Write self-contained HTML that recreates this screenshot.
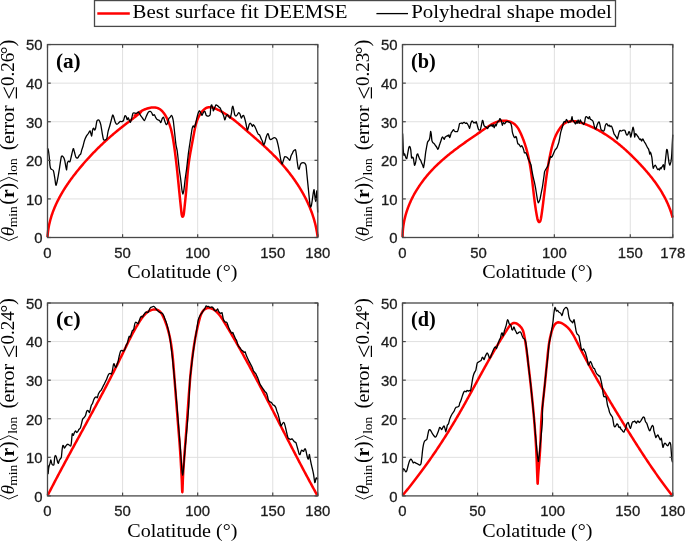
<!DOCTYPE html>
<html><head><meta charset="utf-8"><style>html,body{margin:0;padding:0;background:#fff;}svg{display:block;will-change:transform}</style></head>
<body><svg width="685" height="541" viewBox="0 0 685 541">
<rect width="685" height="541" fill="#fff"/>
<line x1="122.58" y1="44.55" x2="122.58" y2="237.50" stroke="#e0e0e0" stroke-width="1"/>
<line x1="197.67" y1="44.55" x2="197.67" y2="237.50" stroke="#e0e0e0" stroke-width="1"/>
<line x1="272.75" y1="44.55" x2="272.75" y2="237.50" stroke="#e0e0e0" stroke-width="1"/>
<line x1="47.50" y1="198.91" x2="317.80" y2="198.91" stroke="#e0e0e0" stroke-width="1"/>
<line x1="47.50" y1="160.32" x2="317.80" y2="160.32" stroke="#e0e0e0" stroke-width="1"/>
<line x1="47.50" y1="121.73" x2="317.80" y2="121.73" stroke="#e0e0e0" stroke-width="1"/>
<line x1="47.50" y1="83.14" x2="317.80" y2="83.14" stroke="#e0e0e0" stroke-width="1"/>
<path d="M47.50,237.10 L47.56,236.08 L47.64,235.06 L47.73,234.05 L47.84,233.04 L47.96,232.04 L48.08,231.03 L48.22,230.04 L48.38,229.04 L48.54,228.05 L48.72,227.06 L48.90,226.07 L49.10,225.09 L49.31,224.11 L49.53,223.14 L49.76,222.17 L50.00,221.20 L50.25,220.23 L50.52,219.27 L50.79,218.31 L51.07,217.36 L51.36,216.40 L51.67,215.45 L51.98,214.51 L52.30,213.57 L52.63,212.63 L52.97,211.69 L53.32,210.76 L53.68,209.83 L54.05,208.91 L54.43,207.98 L54.81,207.06 L55.21,206.15 L55.61,205.24 L56.02,204.33 L56.44,203.42 L56.87,202.52 L57.30,201.62 L57.75,200.72 L58.20,199.83 L58.65,198.94 L59.12,198.05 L59.59,197.16 L60.07,196.28 L60.56,195.41 L61.05,194.53 L61.55,193.66 L62.06,192.79 L62.57,191.93 L63.09,191.06 L63.62,190.21 L64.15,189.35 L64.69,188.50 L65.23,187.65 L65.78,186.80 L66.33,185.96 L66.89,185.12 L67.46,184.28 L68.03,183.44 L68.61,182.61 L69.19,181.78 L69.77,180.96 L70.36,180.14 L70.96,179.32 L71.55,178.50 L72.16,177.69 L72.76,176.88 L73.37,176.07 L73.99,175.26 L74.61,174.46 L75.23,173.66 L75.85,172.87 L76.48,172.08 L77.11,171.29 L77.75,170.50 L78.38,169.72 L79.02,168.93 L79.67,168.16 L80.31,167.38 L80.96,166.61 L81.61,165.84 L82.26,165.07 L82.92,164.31 L83.58,163.55 L84.24,162.79 L84.90,162.04 L85.56,161.28 L86.23,160.53 L86.90,159.79 L87.57,159.04 L88.25,158.30 L88.93,157.56 L89.61,156.83 L90.29,156.10 L90.97,155.37 L91.66,154.64 L92.35,153.91 L93.04,153.19 L93.74,152.47 L94.43,151.76 L95.13,151.04 L95.84,150.33 L96.54,149.62 L97.25,148.92 L97.96,148.21 L98.67,147.51 L99.38,146.81 L100.10,146.12 L100.82,145.43 L101.54,144.74 L102.27,144.05 L102.99,143.36 L103.72,142.68 L104.45,142.00 L105.19,141.32 L105.92,140.65 L106.66,139.98 L107.40,139.31 L108.15,138.64 L108.89,137.98 L109.64,137.31 L110.39,136.65 L111.15,136.00 L111.90,135.34 L112.66,134.69 L113.42,134.04 L114.19,133.39 L114.95,132.75 L115.72,132.10 L116.49,131.46 L117.27,130.83 L118.04,130.19 L118.82,129.56 L119.60,128.93 L120.38,128.30 L121.17,127.67 L121.96,127.05 L122.75,126.43 L123.54,125.81 L124.34,125.19 L125.13,124.58 L125.94,123.97 L126.74,123.35 L127.55,122.74 L128.36,122.12 L129.17,121.50 L129.99,120.88 L130.82,120.25 L131.65,119.61 L132.49,118.96 L133.34,118.31 L134.19,117.64 L135.05,116.96 L135.91,116.26 L136.79,115.55 L137.68,114.83 L138.57,114.09 L139.43,113.36 L140.17,112.71 L140.71,112.21 L140.95,111.92 L140.83,111.91 L140.34,112.17 L139.57,112.63 L138.63,113.23 L137.61,113.90 L136.60,114.55 L135.71,115.12 L135.03,115.55 L134.65,115.75 L134.66,115.68 L135.00,115.36 L135.61,114.88 L136.40,114.28 L137.28,113.64 L138.20,113.01 L139.14,112.40 L140.11,111.81 L141.10,111.24 L142.10,110.70 L143.12,110.19 L144.15,109.72 L145.18,109.27 L146.22,108.87 L147.26,108.51 L148.30,108.20 L149.34,107.93 L150.37,107.71 L151.38,107.55 L152.39,107.45 L153.38,107.40 L154.35,107.42 L155.29,107.51 L156.21,107.67 L157.10,107.90 L157.97,108.20 L158.79,108.58 L159.59,109.04 L160.35,109.56 L161.08,110.14 L161.79,110.77 L162.46,111.46 L163.10,112.20 L163.72,112.98 L164.31,113.79 L164.88,114.64 L165.42,115.52 L165.93,116.41 L166.43,117.32 L166.90,118.25 L167.35,119.18 L167.78,120.12 L168.19,121.06 L168.57,122.00 L168.95,122.95 L169.30,123.90 L169.64,124.86 L169.96,125.82 L170.26,126.78 L170.55,127.74 L170.83,128.71 L171.09,129.68 L171.34,130.66 L171.58,131.64 L171.80,132.61 L172.02,133.60 L172.23,134.58 L172.42,135.56 L172.61,136.55 L172.79,137.54 L172.97,138.53 L173.14,139.52 L173.30,140.52 L173.46,141.51 L173.62,142.51 L173.77,143.50 L173.92,144.50 L174.07,145.50 L174.21,146.50 L174.35,147.50 L174.49,148.50 L174.63,149.50 L174.77,150.50 L174.90,151.50 L175.04,152.50 L175.17,153.50 L175.29,154.51 L175.42,155.51 L175.55,156.51 L175.67,157.52 L175.79,158.52 L175.91,159.53 L176.03,160.53 L176.15,161.54 L176.27,162.54 L176.38,163.55 L176.49,164.55 L176.61,165.56 L176.72,166.56 L176.83,167.57 L176.94,168.57 L177.04,169.58 L177.15,170.58 L177.26,171.59 L177.36,172.59 L177.47,173.60 L177.57,174.60 L177.67,175.61 L177.78,176.61 L177.88,177.62 L177.98,178.62 L178.08,179.62 L178.18,180.63 L178.28,181.63 L178.38,182.63 L178.48,183.63 L178.58,184.63 L178.68,185.63 L178.78,186.63 L178.88,187.63 L178.98,188.63 L179.08,189.63 L179.17,190.63 L179.27,191.62 L179.37,192.62 L179.48,193.62 L179.58,194.61 L179.68,195.60 L179.78,196.60 L179.88,197.59 L179.98,198.58 L180.09,199.58 L180.19,200.57 L180.29,201.57 L180.40,202.57 L180.50,203.58 L180.61,204.58 L180.71,205.60 L180.82,206.62 L180.92,207.64 L181.03,208.67 L181.13,209.71 L181.24,210.75 L181.35,211.80 L181.45,212.86 L181.59,213.91 L181.77,214.91 L182.05,215.84 L182.42,216.57 L182.84,216.69 L183.23,216.09 L183.54,215.20 L183.75,214.22 L183.90,213.20 L184.02,212.16 L184.13,211.11 L184.25,210.08 L184.36,209.04 L184.47,208.01 L184.58,206.99 L184.69,205.97 L184.79,204.95 L184.90,203.94 L185.00,202.93 L185.11,201.92 L185.21,200.91 L185.31,199.91 L185.41,198.91 L185.51,197.91 L185.61,196.91 L185.70,195.92 L185.80,194.92 L185.89,193.93 L185.99,192.93 L186.08,191.94 L186.17,190.94 L186.26,189.95 L186.35,188.95 L186.43,187.96 L186.52,186.96 L186.60,185.96 L186.68,184.97 L186.76,183.96 L186.84,182.96 L186.92,181.96 L187.00,180.95 L187.08,179.95 L187.16,178.94 L187.25,177.93 L187.33,176.92 L187.41,175.91 L187.50,174.91 L187.58,173.90 L187.67,172.89 L187.77,171.88 L187.86,170.87 L187.96,169.86 L188.07,168.86 L188.17,167.85 L188.29,166.84 L188.40,165.84 L188.53,164.84 L188.65,163.84 L188.79,162.84 L188.92,161.84 L189.07,160.84 L189.21,159.84 L189.36,158.85 L189.52,157.85 L189.68,156.86 L189.84,155.87 L190.01,154.88 L190.18,153.89 L190.35,152.90 L190.52,151.91 L190.70,150.92 L190.88,149.93 L191.06,148.94 L191.24,147.95 L191.43,146.97 L191.61,145.98 L191.80,144.99 L191.99,144.00 L192.17,143.01 L192.36,142.03 L192.55,141.04 L192.74,140.05 L192.93,139.06 L193.11,138.07 L193.30,137.08 L193.48,136.09 L193.67,135.10 L193.85,134.11 L194.03,133.12 L194.22,132.13 L194.40,131.14 L194.59,130.15 L194.79,129.16 L194.99,128.17 L195.21,127.18 L195.43,126.20 L195.67,125.22 L195.93,124.25 L196.20,123.28 L196.50,122.31 L196.81,121.35 L197.15,120.40 L197.51,119.45 L197.90,118.51 L198.32,117.57 L198.77,116.65 L199.26,115.73 L199.77,114.82 L200.33,113.92 L200.92,113.04 L201.54,112.19 L202.20,111.37 L202.88,110.59 L203.60,109.88 L204.35,109.22 L205.13,108.64 L205.94,108.14 L206.77,107.73 L207.63,107.42 L208.52,107.22 L209.43,107.14 L210.35,107.17 L211.30,107.29 L212.25,107.50 L213.22,107.78 L214.18,108.12 L215.15,108.50 L216.11,108.91 L217.06,109.34 L218.00,109.79 L218.93,110.24 L219.85,110.71 L220.76,111.20 L221.66,111.69 L222.56,112.19 L223.44,112.71 L224.32,113.24 L225.18,113.77 L226.04,114.32 L226.89,114.87 L227.74,115.44 L228.57,116.01 L229.40,116.59 L230.23,117.18 L231.05,117.78 L231.86,118.38 L232.66,118.99 L233.47,119.61 L234.26,120.23 L235.05,120.85 L235.84,121.49 L236.63,122.12 L237.40,122.76 L238.18,123.41 L238.95,124.06 L239.72,124.71 L240.49,125.36 L241.26,126.02 L242.02,126.67 L242.78,127.33 L243.54,127.99 L244.30,128.65 L245.06,129.31 L245.82,129.97 L246.57,130.63 L247.33,131.29 L248.09,131.95 L248.85,132.61 L249.60,133.27 L250.36,133.92 L251.12,134.58 L251.88,135.23 L252.63,135.89 L253.39,136.55 L254.14,137.20 L254.90,137.86 L255.65,138.52 L256.40,139.17 L257.16,139.83 L257.91,140.49 L258.66,141.15 L259.41,141.81 L260.15,142.48 L260.90,143.14 L261.65,143.81 L262.39,144.48 L263.13,145.15 L263.87,145.82 L264.61,146.50 L265.35,147.17 L266.08,147.85 L266.82,148.53 L267.55,149.22 L268.28,149.91 L269.00,150.60 L269.73,151.29 L270.45,151.99 L271.17,152.69 L271.89,153.40 L272.60,154.10 L273.31,154.82 L274.02,155.53 L274.73,156.25 L275.44,156.98 L276.14,157.71 L276.83,158.44 L277.53,159.17 L278.22,159.91 L278.91,160.66 L279.60,161.40 L280.28,162.16 L280.96,162.91 L281.63,163.67 L282.30,164.43 L282.97,165.20 L283.63,165.97 L284.29,166.74 L284.95,167.52 L285.60,168.30 L286.25,169.08 L286.89,169.87 L287.53,170.66 L288.17,171.45 L288.80,172.25 L289.42,173.05 L290.05,173.86 L290.66,174.67 L291.28,175.48 L291.88,176.30 L292.49,177.12 L293.08,177.94 L293.68,178.76 L294.27,179.59 L294.85,180.43 L295.43,181.26 L296.00,182.10 L296.56,182.94 L297.13,183.79 L297.68,184.64 L298.23,185.49 L298.78,186.35 L299.32,187.21 L299.85,188.07 L300.37,188.93 L300.90,189.80 L301.41,190.67 L301.92,191.55 L302.42,192.43 L302.92,193.31 L303.41,194.19 L303.89,195.08 L304.37,195.97 L304.84,196.86 L305.30,197.76 L305.76,198.66 L306.21,199.56 L306.65,200.47 L307.09,201.38 L307.52,202.29 L307.94,203.20 L308.35,204.12 L308.76,205.04 L309.16,205.96 L309.55,206.89 L309.94,207.81 L310.31,208.74 L310.68,209.68 L311.05,210.62 L311.40,211.55 L311.75,212.50 L312.08,213.44 L312.41,214.39 L312.74,215.34 L313.05,216.29 L313.35,217.25 L313.65,218.21 L313.94,219.17 L314.22,220.13 L314.49,221.10 L314.75,222.06 L315.01,223.04 L315.25,224.01 L315.49,224.98 L315.72,225.96 L315.94,226.94 L316.14,227.93 L316.34,228.91 L316.53,229.90 L316.72,230.89 L316.89,231.89 L317.05,232.88 L317.20,233.88 L317.35,234.88 L317.48,235.88 L317.60,236.89" fill="none" stroke="#ff0000" stroke-width="2.5" stroke-linejoin="round" stroke-linecap="butt"/>
<path d="M47.36,147.96 C47.47,148.19 48.07,148.93 48.28,149.93 C48.50,150.92 49.01,154.66 49.20,156.50 C49.40,158.34 49.79,164.24 49.99,165.69 C50.19,167.15 50.52,168.41 50.91,168.98 C51.30,169.54 52.88,169.55 53.32,170.55 C53.76,171.54 54.41,175.78 54.70,177.48 C55.00,179.18 55.57,184.45 55.81,185.10 C56.06,185.75 56.51,184.07 56.78,183.02 C57.06,181.97 57.85,177.87 58.17,176.09 C58.49,174.31 59.18,170.06 59.56,167.77 C59.94,165.49 60.98,157.74 61.42,156.50 C61.87,155.26 63.01,156.69 63.39,157.15 C63.78,157.61 64.35,158.96 64.71,160.44 C65.07,161.92 66.18,169.55 66.49,169.85 C66.79,170.16 67.08,164.09 67.34,163.07 C67.59,162.04 68.34,161.25 68.65,161.09 C68.96,160.94 69.66,162.29 69.96,161.75 C70.27,161.22 70.89,158.03 71.28,156.50 C71.66,154.96 72.86,149.07 73.25,148.61 C73.63,148.15 74.26,151.56 74.56,152.55 C74.87,153.55 75.49,156.54 75.88,157.15 C76.26,157.77 77.43,158.04 77.85,157.81 C78.26,157.58 79.09,155.64 79.42,155.18 C79.76,154.72 80.46,154.48 80.74,153.87 C81.01,153.26 81.51,150.85 81.79,149.93 C82.06,149.01 82.80,147.06 83.10,145.99 C83.41,144.91 84.03,141.88 84.42,140.73 C84.80,139.58 85.93,136.97 86.39,136.13 C86.85,135.29 87.93,134.12 88.36,133.50 C88.79,132.89 89.68,130.57 90.07,130.88 C90.45,131.18 91.35,136.21 91.64,136.13 C91.93,136.05 92.33,131.14 92.56,130.22 C92.79,129.30 93.37,128.25 93.61,128.25 C93.86,128.25 94.43,130.22 94.66,130.22 C94.89,130.22 95.32,129.32 95.58,128.25 C95.84,127.18 96.59,121.99 96.90,121.02 C97.20,120.06 97.91,119.97 98.21,119.97 C98.52,119.97 99.22,120.44 99.53,121.02 C99.83,121.60 100.53,123.58 100.84,124.96 C101.15,126.34 101.85,131.16 102.15,132.85 C102.46,134.53 103.16,138.57 103.47,139.42 C103.77,140.26 104.40,140.15 104.78,140.07 C105.16,140.00 106.37,139.76 106.75,138.76 C107.14,137.76 107.73,132.99 108.07,131.53 C108.40,130.08 109.26,127.66 109.64,126.28 C110.03,124.90 111.00,121.01 111.35,119.71 C111.70,118.41 112.40,115.49 112.66,115.11 C112.92,114.73 113.28,115.58 113.58,116.42 C113.89,117.27 114.89,121.42 115.29,122.34 C115.69,123.26 116.62,124.23 117.00,124.31 C117.38,124.38 118.21,123.33 118.58,122.99 C118.94,122.66 119.77,121.57 120.15,121.42 C120.54,121.26 121.46,121.80 121.86,121.68 C122.26,121.56 123.22,121.05 123.57,120.36 C123.92,119.68 124.59,116.23 124.88,115.77 C125.17,115.31 125.81,115.96 126.07,116.42 C126.33,116.88 126.87,119.55 127.12,119.71 C127.36,119.86 127.94,117.74 128.17,117.74 C128.40,117.74 128.83,119.17 129.09,119.71 C129.35,120.24 130.09,122.49 130.40,122.34 C130.71,122.18 131.41,119.47 131.72,118.39 C132.02,117.32 132.54,113.72 133.03,113.14 C133.52,112.56 135.42,113.44 135.91,113.39 C136.40,113.35 136.92,112.89 137.23,112.74 C137.53,112.58 138.16,111.77 138.54,112.08 C138.92,112.39 140.05,114.68 140.51,115.36 C140.97,116.05 142.02,117.38 142.48,117.99 C142.94,118.61 143.99,120.85 144.45,120.62 C144.91,120.39 145.96,117.02 146.42,116.02 C146.88,115.03 147.93,112.62 148.39,112.08 C148.85,111.54 149.98,111.35 150.36,111.42 C150.75,111.50 151.37,112.28 151.68,112.74 C151.99,113.20 152.69,115.14 152.99,115.36 C153.30,115.59 154.00,114.48 154.31,114.71 C154.61,114.94 155.31,116.80 155.62,117.34 C155.93,117.87 156.63,119.00 156.93,119.31 C157.24,119.61 157.94,119.81 158.25,119.96 C158.55,120.12 159.26,120.31 159.56,120.62 C159.87,120.93 160.57,122.82 160.88,122.59 C161.18,122.36 161.88,119.26 162.19,118.65 C162.50,118.04 163.20,117.03 163.50,117.34 C163.81,117.64 164.51,120.43 164.82,121.28 C165.12,122.12 165.82,124.33 166.13,124.56 C166.44,124.79 167.14,123.94 167.45,123.25 C167.75,122.56 168.45,119.34 168.76,118.65 C169.07,117.96 169.77,117.72 170.07,117.34 C170.38,116.95 171.13,115.44 171.39,115.36 C171.65,115.29 172.08,115.99 172.31,116.68 C172.54,117.37 173.08,119.36 173.36,121.28 C173.63,123.19 174.36,130.34 174.67,133.10 C174.98,135.86 175.68,142.78 175.99,144.93 C176.29,147.07 176.92,148.70 177.30,151.50 C177.68,154.29 178.83,165.64 179.22,168.87 C179.62,172.11 180.39,176.81 180.70,179.22 C181.01,181.64 181.63,187.85 181.89,189.57 C182.14,191.30 182.68,194.01 182.92,194.01 C183.16,194.01 183.70,191.30 183.96,189.57 C184.21,187.85 184.83,181.64 185.14,179.22 C185.45,176.81 186.23,171.95 186.62,168.87 C187.01,165.79 188.02,156.22 188.47,152.81 C188.91,149.40 190.02,142.43 190.44,139.67 C190.85,136.91 191.71,130.77 192.01,129.16 C192.32,127.55 192.79,126.11 193.07,125.88 C193.34,125.65 194.07,127.50 194.38,127.19 C194.69,126.88 195.39,124.40 195.69,123.25 C196.00,122.10 196.70,118.56 197.01,117.34 C197.31,116.11 198.01,113.50 198.32,112.74 C198.63,111.97 199.33,110.69 199.64,110.77 C199.94,110.84 200.67,112.86 200.95,113.39 C201.22,113.93 201.69,115.52 202.00,115.36 C202.31,115.21 203.24,112.54 203.58,112.08 C203.91,111.62 204.58,111.04 204.89,111.42 C205.20,111.81 205.90,114.83 206.20,115.36 C206.51,115.90 207.21,115.95 207.52,116.02 C207.82,116.10 208.53,116.18 208.83,116.02 C209.14,115.87 209.92,115.78 210.15,114.71 C210.38,113.64 210.62,107.97 210.80,106.82 C210.99,105.68 211.49,104.70 211.72,104.85 C211.95,105.01 212.57,107.45 212.77,108.14 C212.97,108.83 213.20,110.84 213.43,110.77 C213.66,110.69 214.44,108.17 214.74,107.48 C215.05,106.79 215.75,105.08 216.06,104.85 C216.36,104.62 217.07,105.28 217.37,105.51 C217.68,105.74 218.35,106.52 218.69,106.82 C219.02,107.13 219.92,107.60 220.26,108.14 C220.59,108.68 221.26,110.73 221.57,111.42 C221.88,112.11 222.61,113.44 222.88,114.05 C223.16,114.66 223.70,115.99 223.93,116.68 C224.16,117.37 224.59,120.04 224.85,119.96 C225.11,119.89 225.86,116.64 226.17,116.02 C226.47,115.41 227.18,114.63 227.48,114.71 C227.79,114.78 228.49,116.30 228.80,116.68 C229.10,117.06 229.80,118.38 230.11,117.99 C230.42,117.61 231.19,114.54 231.42,113.39 C231.65,112.24 231.91,108.98 232.08,108.14 C232.25,107.30 232.68,106.01 232.87,106.17 C233.05,106.32 233.44,108.46 233.66,109.45 C233.87,110.45 234.43,113.94 234.71,114.71 C234.98,115.47 235.72,116.02 236.02,116.02 C236.33,116.02 237.03,115.09 237.34,114.71 C237.64,114.32 238.34,112.81 238.65,112.74 C238.96,112.66 239.66,113.44 239.96,114.05 C240.27,114.66 240.97,117.76 241.28,117.99 C241.58,118.22 242.32,116.33 242.59,116.02 C242.87,115.72 243.41,115.14 243.64,115.36 C243.87,115.59 244.30,117.07 244.56,117.99 C244.82,118.91 245.57,121.87 245.88,123.25 C246.18,124.63 246.93,129.20 247.19,129.82 C247.45,130.43 247.88,129.12 248.11,128.50 C248.34,127.89 248.92,125.18 249.16,124.56 C249.41,123.95 249.94,123.25 250.21,123.25 C250.49,123.25 251.26,124.18 251.53,124.56 C251.79,124.95 252.23,126.53 252.45,126.53 C252.66,126.53 253.14,124.64 253.36,124.56 C253.59,124.49 254.14,125.42 254.42,125.88 C254.69,126.34 255.42,127.81 255.73,128.50 C256.04,129.19 256.74,131.10 257.04,131.79 C257.35,132.48 258.05,134.03 258.36,134.42 C258.66,134.80 259.36,134.61 259.67,135.07 C259.98,135.53 260.68,137.67 260.99,138.36 C261.29,139.05 261.99,140.22 262.30,140.99 C262.61,141.75 263.31,144.77 263.61,144.93 C263.92,145.08 264.62,143.22 264.93,142.30 C265.23,141.38 265.96,137.96 266.24,137.04 C266.52,136.12 267.06,134.80 267.29,134.42 C267.52,134.03 267.95,133.30 268.21,133.76 C268.47,134.22 269.22,137.67 269.53,138.36 C269.83,139.05 270.46,139.67 270.84,139.67 C271.22,139.67 272.43,138.59 272.81,138.36 C273.19,138.13 273.82,137.73 274.12,137.70 C274.43,137.67 275.13,137.86 275.44,138.09 C275.74,138.32 276.45,138.87 276.75,139.67 C277.06,140.47 277.76,143.55 278.07,144.93 C278.37,146.31 279.07,149.81 279.38,151.50 C279.69,153.18 280.39,157.92 280.69,159.38 C281.00,160.84 281.70,163.82 282.01,163.98 C282.31,164.13 283.01,161.54 283.32,160.69 C283.63,159.85 284.23,157.16 284.64,156.75 C285.04,156.35 286.41,157.02 286.80,157.21 C287.20,157.40 287.65,158.06 288.00,158.41 C288.35,158.76 289.46,160.49 289.81,160.21 C290.16,159.93 290.73,156.78 291.01,156.01 C291.29,155.24 291.93,154.17 292.21,153.60 C292.49,153.04 293.13,151.62 293.41,151.20 C293.69,150.78 294.36,150.14 294.61,150.00 C294.86,149.86 295.36,149.44 295.57,150.00 C295.78,150.56 296.22,153.40 296.41,154.81 C296.61,156.21 297.04,160.47 297.26,162.01 C297.47,163.56 297.99,167.18 298.22,168.02 C298.44,168.86 298.97,169.50 299.18,169.22 C299.39,168.94 299.78,166.32 300.02,165.62 C300.26,164.92 300.87,163.57 301.22,163.22 C301.57,162.87 302.60,162.62 303.02,162.62 C303.44,162.62 304.47,162.87 304.82,163.22 C305.17,163.57 305.79,164.36 306.03,165.62 C306.26,166.88 306.66,171.93 306.87,174.03 C307.08,176.13 307.60,181.40 307.83,183.64 C308.05,185.88 308.58,191.15 308.79,193.25 C309.00,195.36 309.43,200.05 309.63,201.66 C309.83,203.28 310.26,206.65 310.47,207.07 C310.68,207.49 311.21,206.18 311.43,205.27 C311.66,204.36 312.18,200.66 312.39,199.26 C312.60,197.86 313.04,194.37 313.23,193.25 C313.43,192.13 313.89,189.37 314.08,189.65 C314.26,189.93 314.61,194.25 314.80,195.66 C314.98,197.06 315.47,201.66 315.64,201.66 C315.81,201.66 316.10,196.92 316.24,195.66 C316.38,194.39 316.73,190.57 316.84,190.85 C316.95,191.13 317.13,196.24 317.20,198.06 C317.27,199.88 317.38,204.79 317.44,206.47 C317.50,208.15 317.65,211.78 317.68,212.48" fill="none" stroke="#000" stroke-width="1.3" stroke-linejoin="round"/>
<line x1="47.50" y1="237.50" x2="47.50" y2="234.20" stroke="#484848" stroke-width="1.2"/>
<line x1="47.50" y1="44.55" x2="47.50" y2="47.85" stroke="#484848" stroke-width="1.2"/>
<line x1="122.58" y1="237.50" x2="122.58" y2="234.20" stroke="#484848" stroke-width="1.2"/>
<line x1="122.58" y1="44.55" x2="122.58" y2="47.85" stroke="#484848" stroke-width="1.2"/>
<line x1="197.67" y1="237.50" x2="197.67" y2="234.20" stroke="#484848" stroke-width="1.2"/>
<line x1="197.67" y1="44.55" x2="197.67" y2="47.85" stroke="#484848" stroke-width="1.2"/>
<line x1="272.75" y1="237.50" x2="272.75" y2="234.20" stroke="#484848" stroke-width="1.2"/>
<line x1="272.75" y1="44.55" x2="272.75" y2="47.85" stroke="#484848" stroke-width="1.2"/>
<line x1="317.80" y1="237.50" x2="317.80" y2="234.20" stroke="#484848" stroke-width="1.2"/>
<line x1="317.80" y1="44.55" x2="317.80" y2="47.85" stroke="#484848" stroke-width="1.2"/>
<line x1="47.50" y1="237.50" x2="50.80" y2="237.50" stroke="#484848" stroke-width="1.2"/>
<line x1="317.80" y1="237.50" x2="314.50" y2="237.50" stroke="#484848" stroke-width="1.2"/>
<line x1="47.50" y1="198.91" x2="50.80" y2="198.91" stroke="#484848" stroke-width="1.2"/>
<line x1="317.80" y1="198.91" x2="314.50" y2="198.91" stroke="#484848" stroke-width="1.2"/>
<line x1="47.50" y1="160.32" x2="50.80" y2="160.32" stroke="#484848" stroke-width="1.2"/>
<line x1="317.80" y1="160.32" x2="314.50" y2="160.32" stroke="#484848" stroke-width="1.2"/>
<line x1="47.50" y1="121.73" x2="50.80" y2="121.73" stroke="#484848" stroke-width="1.2"/>
<line x1="317.80" y1="121.73" x2="314.50" y2="121.73" stroke="#484848" stroke-width="1.2"/>
<line x1="47.50" y1="83.14" x2="50.80" y2="83.14" stroke="#484848" stroke-width="1.2"/>
<line x1="317.80" y1="83.14" x2="314.50" y2="83.14" stroke="#484848" stroke-width="1.2"/>
<line x1="47.50" y1="44.55" x2="50.80" y2="44.55" stroke="#484848" stroke-width="1.2"/>
<line x1="317.80" y1="44.55" x2="314.50" y2="44.55" stroke="#484848" stroke-width="1.2"/>
<rect x="47.50" y="44.55" width="270.30" height="192.95" fill="none" stroke="#484848" stroke-width="1.3"/>
<text x="47.50" y="258.00" font-family="Liberation Sans" font-size="14.9" fill="#1c1c1c" stroke="#1c1c1c" stroke-width="0.3" text-anchor="middle">0</text>
<text x="122.58" y="258.00" font-family="Liberation Sans" font-size="14.9" fill="#1c1c1c" stroke="#1c1c1c" stroke-width="0.3" text-anchor="middle">50</text>
<text x="197.67" y="258.00" font-family="Liberation Sans" font-size="14.9" fill="#1c1c1c" stroke="#1c1c1c" stroke-width="0.3" text-anchor="middle">100</text>
<text x="272.75" y="258.00" font-family="Liberation Sans" font-size="14.9" fill="#1c1c1c" stroke="#1c1c1c" stroke-width="0.3" text-anchor="middle">150</text>
<text x="317.80" y="258.00" font-family="Liberation Sans" font-size="14.9" fill="#1c1c1c" stroke="#1c1c1c" stroke-width="0.3" text-anchor="middle">180</text>
<text x="42.60" y="243.30" font-family="Liberation Sans" font-size="14.9" fill="#1c1c1c" stroke="#1c1c1c" stroke-width="0.3" text-anchor="end">0</text>
<text x="42.60" y="204.71" font-family="Liberation Sans" font-size="14.9" fill="#1c1c1c" stroke="#1c1c1c" stroke-width="0.3" text-anchor="end">10</text>
<text x="42.60" y="166.12" font-family="Liberation Sans" font-size="14.9" fill="#1c1c1c" stroke="#1c1c1c" stroke-width="0.3" text-anchor="end">20</text>
<text x="42.60" y="127.53" font-family="Liberation Sans" font-size="14.9" fill="#1c1c1c" stroke="#1c1c1c" stroke-width="0.3" text-anchor="end">30</text>
<text x="42.60" y="88.94" font-family="Liberation Sans" font-size="14.9" fill="#1c1c1c" stroke="#1c1c1c" stroke-width="0.3" text-anchor="end">40</text>
<text x="42.60" y="50.35" font-family="Liberation Sans" font-size="14.9" fill="#1c1c1c" stroke="#1c1c1c" stroke-width="0.3" text-anchor="end">50</text>
<text x="55.90" y="67.55" font-family="Liberation Serif" font-weight="bold" font-size="20.6" fill="#000" textLength="24.8" lengthAdjust="spacingAndGlyphs">(a)</text>
<text x="182.35" y="278.40" font-family="Liberation Serif" font-size="19.5" fill="#000" text-anchor="middle" textLength="110" lengthAdjust="spacingAndGlyphs">Colatitude (°)</text>
<g transform="translate(13.90,0.00) rotate(-90)" fill="#000">
<path d="M-236.70,-13.9 L-240.60,-5.1 L-236.70,4.1" fill="none" stroke="#000" stroke-width="0.9"/>
<text x="-231.35" y="0" font-family="Liberation Serif" font-size="19.5" text-anchor="middle" font-style="italic">θ</text>
<text x="-216.75" y="2.7" font-family="Liberation Serif" font-size="13.5" text-anchor="middle" textLength="21.0" lengthAdjust="spacingAndGlyphs">min</text>
<text x="-201.25" y="0" font-family="Liberation Serif" font-size="20.6" text-anchor="middle">(</text>
<text x="-193.65" y="0" font-family="Liberation Serif" font-size="19.5" text-anchor="middle" font-weight="bold">r</text>
<text x="-186.30" y="0" font-family="Liberation Serif" font-size="20.6" text-anchor="middle">)</text>
<path d="M-181.30,-13.9 L-177.30,-5.1 L-181.30,4.1" fill="none" stroke="#000" stroke-width="0.9"/>
<text x="-166.90" y="2.7" font-family="Liberation Serif" font-size="13.5" text-anchor="middle" textLength="17.0" lengthAdjust="spacingAndGlyphs">lon</text>
<text x="-146.70" y="0" font-family="Liberation Serif" font-size="20.6" text-anchor="middle">(</text>
<text x="-124.70" y="0" font-family="Liberation Serif" font-size="19.5" text-anchor="middle" textLength="38.6" lengthAdjust="spacingAndGlyphs">error</text>
<text x="-93.00" y="2.6" font-family="Liberation Serif" font-size="24" text-anchor="middle">≤</text>
<text x="-69.40" y="0" font-family="Liberation Serif" font-size="19.5" text-anchor="middle" textLength="33.3" lengthAdjust="spacingAndGlyphs">0.26</text>
<text x="-50.25" y="0" font-family="Liberation Serif" font-size="19.5" text-anchor="middle">°</text>
<text x="-43.05" y="0" font-family="Liberation Serif" font-size="20.6" text-anchor="middle">)</text>
</g>
<line x1="478.43" y1="44.55" x2="478.43" y2="237.50" stroke="#e0e0e0" stroke-width="1"/>
<line x1="554.35" y1="44.55" x2="554.35" y2="237.50" stroke="#e0e0e0" stroke-width="1"/>
<line x1="630.28" y1="44.55" x2="630.28" y2="237.50" stroke="#e0e0e0" stroke-width="1"/>
<line x1="402.50" y1="198.91" x2="672.80" y2="198.91" stroke="#e0e0e0" stroke-width="1"/>
<line x1="402.50" y1="160.32" x2="672.80" y2="160.32" stroke="#e0e0e0" stroke-width="1"/>
<line x1="402.50" y1="121.73" x2="672.80" y2="121.73" stroke="#e0e0e0" stroke-width="1"/>
<line x1="402.50" y1="83.14" x2="672.80" y2="83.14" stroke="#e0e0e0" stroke-width="1"/>
<path d="M402.60,237.12 L402.61,236.21 L402.62,235.31 L402.64,234.41 L402.67,233.50 L402.72,232.60 L402.77,231.71 L402.83,230.81 L402.91,229.91 L402.99,229.02 L403.08,228.13 L403.19,227.24 L403.30,226.36 L403.42,225.47 L403.56,224.59 L403.70,223.71 L403.85,222.83 L404.01,221.95 L404.18,221.08 L404.36,220.20 L404.55,219.33 L404.75,218.47 L404.96,217.60 L405.17,216.74 L405.40,215.88 L405.63,215.02 L405.88,214.16 L406.13,213.31 L406.39,212.46 L406.65,211.61 L406.93,210.77 L407.22,209.93 L407.51,209.09 L407.81,208.25 L408.12,207.41 L408.44,206.58 L408.76,205.75 L409.09,204.93 L409.43,204.10 L409.78,203.28 L410.14,202.47 L410.50,201.65 L410.87,200.84 L411.25,200.03 L411.63,199.23 L412.03,198.43 L412.43,197.63 L412.83,196.84 L413.24,196.04 L413.66,195.26 L414.09,194.47 L414.52,193.69 L414.96,192.91 L415.41,192.14 L415.86,191.36 L416.32,190.60 L416.79,189.83 L417.26,189.07 L417.74,188.32 L418.22,187.56 L418.71,186.81 L419.21,186.07 L419.71,185.32 L420.21,184.59 L420.73,183.85 L421.24,183.12 L421.77,182.40 L422.30,181.67 L422.83,180.96 L423.37,180.24 L423.91,179.53 L424.46,178.83 L425.02,178.12 L425.58,177.43 L426.14,176.73 L426.71,176.04 L427.28,175.36 L427.86,174.68 L428.44,174.00 L429.03,173.33 L429.62,172.66 L430.21,172.00 L430.81,171.34 L431.42,170.69 L432.02,170.04 L432.64,169.39 L433.25,168.75 L433.87,168.12 L434.49,167.48 L435.12,166.85 L435.75,166.23 L436.39,165.61 L437.02,164.99 L437.66,164.38 L438.31,163.77 L438.96,163.16 L439.61,162.56 L440.26,161.96 L440.92,161.36 L441.58,160.77 L442.25,160.18 L442.91,159.59 L443.58,159.01 L444.26,158.43 L444.93,157.85 L445.61,157.28 L446.29,156.71 L446.98,156.14 L447.66,155.57 L448.35,155.01 L449.05,154.45 L449.74,153.89 L450.44,153.34 L451.14,152.78 L451.84,152.23 L452.54,151.68 L453.25,151.14 L453.96,150.59 L454.67,150.05 L455.38,149.51 L456.09,148.97 L456.81,148.44 L457.53,147.90 L458.25,147.37 L458.97,146.84 L459.69,146.31 L460.42,145.78 L461.14,145.25 L461.87,144.73 L462.60,144.20 L463.33,143.68 L464.06,143.16 L464.79,142.64 L465.53,142.12 L466.26,141.60 L467.00,141.09 L467.74,140.57 L468.48,140.05 L469.21,139.54 L469.95,139.02 L470.70,138.51 L471.44,138.00 L472.18,137.48 L472.92,136.97 L473.67,136.46 L474.41,135.95 L475.15,135.44 L475.90,134.93 L476.64,134.41 L477.39,133.90 L478.14,133.39 L478.88,132.88 L479.63,132.37 L480.37,131.86 L481.12,131.34 L481.86,130.83 L482.61,130.32 L483.36,129.80 L484.10,129.29 L484.85,128.77 L485.59,128.26 L486.34,127.75 L487.08,127.24 L487.83,126.74 L488.58,126.25 L489.33,125.77 L490.09,125.29 L490.84,124.84 L491.61,124.39 L492.37,123.96 L493.14,123.55 L493.92,123.16 L494.70,122.79 L495.48,122.45 L496.27,122.13 L497.07,121.83 L497.88,121.56 L498.69,121.33 L499.51,121.12 L500.34,120.95 L501.18,120.82 L502.02,120.72 L502.88,120.65 L503.75,120.63 L504.62,120.65 L505.51,120.72 L506.40,120.82 L507.29,120.97 L508.18,121.17 L509.06,121.40 L509.93,121.68 L510.79,122.01 L511.62,122.38 L512.43,122.79 L513.21,123.25 L513.95,123.75 L514.66,124.30 L515.32,124.89 L515.95,125.52 L516.54,126.20 L517.10,126.90 L517.62,127.63 L518.12,128.39 L518.59,129.18 L519.04,129.98 L519.47,130.79 L519.89,131.62 L520.29,132.46 L520.68,133.30 L521.06,134.14 L521.43,134.98 L521.79,135.82 L522.14,136.67 L522.49,137.51 L522.83,138.36 L523.16,139.20 L523.48,140.05 L523.79,140.90 L524.10,141.75 L524.40,142.60 L524.69,143.45 L524.97,144.30 L525.25,145.16 L525.52,146.01 L525.78,146.87 L526.04,147.72 L526.29,148.58 L526.53,149.44 L526.77,150.30 L527.00,151.16 L527.23,152.02 L527.45,152.88 L527.66,153.74 L527.87,154.60 L528.07,155.47 L528.27,156.33 L528.46,157.20 L528.65,158.06 L528.83,158.93 L529.01,159.80 L529.18,160.67 L529.35,161.54 L529.52,162.41 L529.68,163.28 L529.83,164.15 L529.99,165.02 L530.14,165.90 L530.28,166.77 L530.42,167.64 L530.56,168.52 L530.70,169.39 L530.83,170.27 L530.96,171.15 L531.08,172.03 L531.21,172.90 L531.33,173.78 L531.45,174.66 L531.57,175.54 L531.68,176.42 L531.79,177.31 L531.91,178.19 L532.02,179.07 L532.12,179.95 L532.23,180.84 L532.34,181.72 L532.44,182.60 L532.54,183.49 L532.65,184.37 L532.75,185.26 L532.85,186.15 L532.95,187.03 L533.05,187.92 L533.15,188.81 L533.25,189.70 L533.35,190.59 L533.45,191.48 L533.55,192.36 L533.66,193.25 L533.76,194.15 L533.86,195.04 L533.97,195.93 L534.07,196.82 L534.18,197.71 L534.29,198.60 L534.40,199.49 L534.51,200.39 L534.62,201.28 L534.74,202.17 L534.86,203.07 L534.98,203.96 L535.10,204.85 L535.22,205.75 L535.35,206.64 L535.48,207.54 L535.61,208.43 L535.75,209.33 L535.89,210.22 L536.03,211.12 L536.18,212.02 L536.33,212.91 L536.48,213.81 L536.64,214.70 L536.80,215.60 L536.97,216.50 L537.14,217.39 L537.32,218.29 L537.52,219.16 L537.76,219.99 L538.06,220.77 L538.42,221.46 L538.85,221.96 L539.31,222.09 L539.76,221.80 L540.16,221.21 L540.48,220.43 L540.74,219.52 L540.95,218.52 L541.13,217.50 L541.29,216.49 L541.44,215.52 L541.58,214.57 L541.72,213.66 L541.85,212.76 L541.97,211.88 L542.09,211.01 L542.21,210.15 L542.33,209.29 L542.44,208.43 L542.55,207.56 L542.67,206.70 L542.78,205.83 L542.89,204.96 L543.00,204.09 L543.11,203.22 L543.22,202.35 L543.32,201.47 L543.43,200.60 L543.54,199.72 L543.65,198.84 L543.75,197.96 L543.86,197.08 L543.97,196.19 L544.08,195.31 L544.18,194.43 L544.29,193.54 L544.40,192.65 L544.51,191.76 L544.61,190.87 L544.72,189.99 L544.83,189.09 L544.94,188.20 L545.05,187.31 L545.16,186.42 L545.27,185.53 L545.39,184.64 L545.50,183.74 L545.62,182.85 L545.73,181.96 L545.85,181.06 L545.97,180.17 L546.08,179.27 L546.20,178.38 L546.33,177.49 L546.45,176.59 L546.57,175.70 L546.70,174.81 L546.83,173.92 L546.96,173.03 L547.09,172.13 L547.22,171.24 L547.36,170.35 L547.49,169.46 L547.63,168.58 L547.78,167.69 L547.92,166.80 L548.06,165.92 L548.21,165.03 L548.36,164.15 L548.52,163.27 L548.67,162.38 L548.83,161.50 L548.99,160.63 L549.15,159.75 L549.32,158.87 L549.49,158.00 L549.66,157.13 L549.83,156.26 L550.01,155.39 L550.19,154.52 L550.38,153.65 L550.56,152.79 L550.75,151.93 L550.95,151.07 L551.15,150.21 L551.35,149.36 L551.55,148.50 L551.76,147.65 L551.97,146.80 L552.19,145.96 L552.42,145.11 L552.65,144.27 L552.89,143.43 L553.15,142.59 L553.41,141.76 L553.68,140.92 L553.96,140.09 L554.26,139.26 L554.57,138.43 L554.90,137.60 L555.24,136.78 L555.59,135.96 L555.97,135.14 L556.36,134.32 L556.77,133.50 L557.20,132.68 L557.65,131.87 L558.12,131.05 L558.62,130.24 L559.13,129.43 L559.67,128.63 L560.24,127.85 L560.82,127.09 L561.42,126.35 L562.05,125.65 L562.69,124.99 L563.35,124.37 L564.03,123.81 L564.73,123.30 L565.45,122.85 L566.18,122.46 L566.93,122.12 L567.70,121.83 L568.47,121.60 L569.26,121.41 L570.07,121.27 L570.88,121.17 L571.70,121.12 L572.54,121.11 L573.38,121.13 L574.23,121.19 L575.08,121.28 L575.94,121.40 L576.81,121.56 L577.68,121.74 L578.55,121.95 L579.42,122.18 L580.30,122.43 L581.18,122.70 L582.05,122.98 L582.93,123.29 L583.80,123.60 L584.67,123.92 L585.53,124.26 L586.39,124.60 L587.25,124.95 L588.10,125.30 L588.94,125.66 L589.78,126.02 L590.61,126.40 L591.45,126.77 L592.27,127.16 L593.09,127.55 L593.91,127.94 L594.72,128.34 L595.53,128.75 L596.33,129.16 L597.13,129.58 L597.92,130.01 L598.71,130.44 L599.50,130.87 L600.28,131.31 L601.05,131.76 L601.83,132.21 L602.59,132.67 L603.36,133.13 L604.12,133.60 L604.87,134.07 L605.63,134.55 L606.38,135.03 L607.12,135.51 L607.86,136.01 L608.60,136.50 L609.33,137.00 L610.06,137.51 L610.79,138.02 L611.51,138.53 L612.23,139.05 L612.95,139.58 L613.66,140.10 L614.37,140.64 L615.07,141.17 L615.77,141.71 L616.47,142.26 L617.17,142.81 L617.86,143.36 L618.55,143.91 L619.24,144.47 L619.92,145.04 L620.60,145.61 L621.28,146.18 L621.96,146.75 L622.63,147.33 L623.30,147.91 L623.97,148.50 L624.63,149.09 L625.29,149.68 L625.95,150.27 L626.61,150.87 L627.26,151.47 L627.91,152.08 L628.56,152.69 L629.21,153.30 L629.86,153.91 L630.50,154.52 L631.14,155.14 L631.78,155.76 L632.41,156.39 L633.05,157.02 L633.68,157.64 L634.31,158.28 L634.94,158.91 L635.57,159.55 L636.19,160.18 L636.81,160.82 L637.43,161.47 L638.05,162.11 L638.67,162.76 L639.29,163.41 L639.90,164.06 L640.51,164.71 L641.12,165.37 L641.73,166.03 L642.34,166.69 L642.94,167.35 L643.54,168.01 L644.14,168.68 L644.73,169.35 L645.32,170.02 L645.91,170.70 L646.50,171.37 L647.08,172.05 L647.66,172.74 L648.24,173.42 L648.81,174.11 L649.38,174.80 L649.95,175.49 L650.51,176.19 L651.07,176.88 L651.63,177.58 L652.18,178.29 L652.72,178.99 L653.27,179.70 L653.80,180.42 L654.34,181.13 L654.87,181.85 L655.39,182.57 L655.92,183.29 L656.43,184.02 L656.94,184.75 L657.45,185.48 L657.95,186.22 L658.45,186.96 L658.94,187.70 L659.42,188.45 L659.91,189.19 L660.38,189.95 L660.85,190.70 L661.31,191.46 L661.77,192.22 L662.23,192.99 L662.67,193.76 L663.11,194.53 L663.55,195.30 L663.98,196.08 L664.40,196.86 L664.81,197.65 L665.22,198.44 L665.63,199.23 L666.02,200.03 L666.41,200.83 L666.80,201.63 L667.17,202.44 L667.54,203.25 L667.90,204.07 L668.26,204.89 L668.60,205.71 L668.94,206.54 L669.27,207.37 L669.60,208.20 L669.92,209.04 L670.22,209.88 L670.53,210.73 L670.82,211.58 L671.10,212.43 L671.38,213.29 L671.65,214.15 L671.91,215.02 L672.16,215.89 L672.41,216.77 L672.64,217.65" fill="none" stroke="#ff0000" stroke-width="2.5" stroke-linejoin="round" stroke-linecap="butt"/>
<path d="M402.63,133.50 C402.66,134.19 402.81,137.50 402.89,139.42 C402.97,141.33 403.16,148.09 403.28,149.93 C403.41,151.77 403.79,154.72 403.94,155.18 C404.09,155.64 404.45,153.79 404.60,153.87 C404.75,153.95 405.10,155.38 405.26,155.84 C405.41,156.30 405.73,157.50 405.91,157.81 C406.10,158.12 406.60,159.08 406.83,158.47 C407.06,157.85 407.64,153.86 407.88,152.55 C408.13,151.25 408.70,147.99 408.93,147.30 C409.16,146.61 409.64,146.34 409.85,146.64 C410.07,146.95 410.57,148.62 410.77,149.93 C410.97,151.23 411.36,156.97 411.56,157.81 C411.76,158.65 412.27,157.08 412.48,157.15 C412.70,157.23 413.17,157.55 413.40,158.47 C413.63,159.39 414.25,164.35 414.45,165.04 C414.65,165.73 414.96,164.76 415.11,164.38 C415.26,164.00 415.57,162.82 415.77,161.75 C415.97,160.68 416.59,156.10 416.82,155.18 C417.05,154.26 417.52,153.72 417.74,153.87 C417.95,154.02 418.43,155.88 418.66,156.50 C418.89,157.11 419.46,158.66 419.71,159.12 C419.95,159.58 420.53,159.98 420.76,160.44 C420.99,160.90 421.46,162.53 421.68,163.07 C421.89,163.60 422.40,164.50 422.60,165.04 C422.80,165.57 423.23,167.59 423.39,167.66 C423.54,167.74 423.76,166.54 423.91,165.69 C424.07,164.85 424.50,161.97 424.70,160.44 C424.90,158.91 425.41,154.09 425.62,152.55 C425.84,151.02 426.31,148.53 426.54,147.30 C426.77,146.07 427.36,142.81 427.59,142.04 C427.82,141.28 428.33,140.96 428.51,140.73 C428.69,140.50 429.00,140.53 429.17,140.07 C429.34,139.61 429.79,137.78 429.96,136.79 C430.12,135.79 430.46,131.84 430.61,131.53 C430.77,131.23 431.12,133.09 431.27,134.16 C431.42,135.23 431.74,139.73 431.93,140.73 C432.11,141.73 432.62,142.39 432.85,142.70 C433.08,143.01 433.67,143.13 433.90,143.36 C434.13,143.59 434.59,144.36 434.82,144.67 C435.05,144.98 435.64,145.68 435.87,145.99 C436.10,146.29 436.57,146.92 436.79,147.30 C437.00,147.68 437.52,149.12 437.71,149.27 C437.89,149.42 438.20,149.00 438.36,148.61 C438.53,148.23 438.95,146.60 439.15,145.99 C439.35,145.37 439.86,143.97 440.07,143.36 C440.29,142.74 440.79,141.34 440.99,140.73 C441.19,140.12 441.61,138.56 441.78,138.10 C441.95,137.64 442.25,136.79 442.44,136.79 C442.62,136.79 443.14,137.80 443.36,138.10 C443.57,138.41 444.09,139.49 444.28,139.42 C444.46,139.34 444.77,137.75 444.93,137.45 C445.10,137.14 445.52,136.94 445.72,136.79 C445.92,136.64 446.43,136.28 446.64,136.13 C446.86,135.98 447.36,135.47 447.56,135.47 C447.76,135.47 448.20,136.21 448.35,136.13 C448.50,136.05 448.72,134.66 448.88,134.82 C449.03,134.97 449.50,137.29 449.66,137.45 C449.83,137.60 450.14,136.67 450.32,136.13 C450.51,135.59 451.03,133.38 451.24,132.85 C451.46,132.31 451.96,131.84 452.16,131.53 C452.36,131.23 452.78,130.45 452.95,130.22 C453.12,129.99 453.45,129.49 453.61,129.56 C453.76,129.64 454.08,130.65 454.26,130.88 C454.45,131.11 454.95,131.46 455.18,131.53 C455.41,131.61 455.97,131.53 456.23,131.53 C456.49,131.53 457.19,131.76 457.42,131.53 C457.65,131.30 458.04,130.10 458.20,129.56 C458.37,129.03 458.71,127.62 458.86,126.93 C459.01,126.24 459.33,124.06 459.52,123.65 C459.70,123.24 460.21,123.46 460.44,123.39 C460.67,123.31 461.26,122.96 461.49,122.99 C461.72,123.02 462.19,123.70 462.41,123.65 C462.62,123.60 463.10,122.75 463.33,122.60 C463.56,122.45 464.13,122.24 464.38,122.34 C464.62,122.43 465.20,123.31 465.43,123.39 C465.66,123.46 466.14,122.96 466.35,122.99 C466.56,123.02 467.07,123.42 467.27,123.65 C467.47,123.88 467.86,124.58 468.06,124.96 C468.26,125.35 468.79,126.55 468.98,126.93 C469.16,127.32 469.48,128.40 469.64,128.25 C469.79,128.09 470.14,126.23 470.29,125.62 C470.45,125.01 470.75,123.53 470.95,122.99 C471.15,122.46 471.77,121.18 472.00,121.02 C472.23,120.87 472.71,121.45 472.92,121.68 C473.13,121.91 473.64,122.92 473.84,122.99 C474.04,123.07 474.43,122.34 474.63,122.34 C474.83,122.34 475.36,123.07 475.55,122.99 C475.73,122.92 476.05,121.60 476.20,121.68 C476.36,121.76 476.71,123.11 476.86,123.65 C477.01,124.19 477.32,125.59 477.52,126.28 C477.72,126.97 478.34,129.10 478.57,129.56 C478.80,130.02 479.27,130.22 479.49,130.22 C479.70,130.22 480.21,130.02 480.41,129.56 C480.61,129.10 481.01,127.12 481.20,126.28 C481.38,125.43 481.83,123.03 481.99,122.34 C482.14,121.65 482.37,120.44 482.51,120.36 C482.65,120.29 483.01,121.14 483.17,121.68 C483.32,122.22 483.61,124.40 483.82,124.96 C484.04,125.53 484.71,126.27 485.00,126.53 C485.29,126.79 486.01,126.96 486.31,127.19 C486.62,127.42 487.35,128.58 487.63,128.50 C487.90,128.43 488.40,126.84 488.68,126.53 C488.95,126.23 489.69,126.06 489.99,125.88 C490.30,125.69 491.05,124.88 491.31,124.96 C491.57,125.03 492.01,126.58 492.23,126.53 C492.44,126.49 492.92,124.41 493.15,124.56 C493.38,124.72 493.95,127.85 494.20,127.85 C494.44,127.85 495.02,124.79 495.25,124.56 C495.48,124.33 495.91,126.18 496.17,125.88 C496.43,125.57 497.18,122.47 497.48,121.93 C497.79,121.40 498.54,121.66 498.80,121.28 C499.06,120.89 499.52,118.88 499.72,118.65 C499.91,118.42 500.30,119.00 500.50,119.31 C500.70,119.61 501.21,120.59 501.42,121.28 C501.64,121.97 502.11,125.07 502.34,125.22 C502.57,125.37 503.12,122.74 503.39,122.59 C503.67,122.44 504.40,123.98 504.71,123.91 C505.01,123.83 505.72,122.24 506.02,121.93 C506.33,121.63 507.03,121.28 507.34,121.28 C507.64,121.28 508.27,121.70 508.65,121.93 C509.03,122.16 510.27,122.71 510.62,123.25 C510.97,123.78 511.47,125.54 511.67,126.53 C511.87,127.53 512.14,130.79 512.33,131.79 C512.51,132.78 513.03,134.46 513.25,135.07 C513.46,135.69 513.97,136.74 514.17,137.04 C514.37,137.35 514.76,137.78 514.96,137.70 C515.16,137.62 515.69,136.39 515.88,136.39 C516.06,136.39 516.38,137.16 516.53,137.70 C516.69,138.24 517.04,140.30 517.19,140.99 C517.34,141.68 517.65,143.23 517.85,143.61 C518.05,144.00 518.67,144.04 518.90,144.27 C519.13,144.50 519.60,145.28 519.82,145.58 C520.03,145.89 520.51,146.90 520.74,146.90 C520.97,146.90 521.54,145.51 521.79,145.58 C522.03,145.66 522.61,147.02 522.84,147.55 C523.07,148.09 523.58,149.57 523.76,150.18 C523.94,150.80 524.19,152.50 524.42,152.81 C524.65,153.12 525.45,152.58 525.73,152.81 C526.01,153.04 526.55,154.24 526.78,154.78 C527.01,155.32 527.47,156.80 527.70,157.41 C527.93,158.02 528.52,159.50 528.75,160.04 C528.98,160.57 529.41,161.43 529.67,162.01 C529.93,162.59 530.72,163.87 531.00,165.00 C531.28,166.13 531.84,170.28 532.10,171.70 C532.36,173.12 532.94,176.04 533.20,177.20 C533.46,178.35 534.04,180.43 534.30,181.60 C534.56,182.77 535.14,185.78 535.40,187.20 C535.66,188.62 536.24,192.25 536.50,193.80 C536.76,195.35 537.40,199.46 537.60,200.50 C537.80,201.54 538.03,202.57 538.20,202.70 C538.38,202.83 538.87,202.11 539.10,201.60 C539.33,201.09 539.92,199.47 540.20,198.30 C540.48,197.13 541.24,192.90 541.50,191.60 C541.76,190.30 542.20,188.37 542.40,187.20 C542.60,186.03 543.01,182.89 543.20,181.60 C543.39,180.31 543.84,177.25 544.00,176.10 C544.16,174.94 544.40,172.48 544.60,171.70 C544.80,170.92 545.41,169.93 545.70,169.40 C545.99,168.88 546.81,167.71 547.10,167.20 C547.39,166.69 547.83,166.22 548.20,165.00 C548.57,163.78 549.93,157.64 550.30,156.75 C550.67,155.87 551.11,157.49 551.35,157.41 C551.60,157.33 552.17,156.48 552.40,156.09 C552.63,155.71 553.09,154.66 553.32,154.12 C553.55,153.59 554.14,152.03 554.37,151.50 C554.60,150.96 555.08,149.83 555.29,149.53 C555.51,149.22 555.98,149.18 556.21,148.87 C556.44,148.56 557.06,147.36 557.26,146.90 C557.46,146.44 557.74,145.46 557.92,144.93 C558.10,144.39 558.64,143.07 558.84,142.30 C559.04,141.53 559.43,139.43 559.63,138.36 C559.83,137.28 560.33,134.10 560.55,133.10 C560.76,132.11 561.24,130.58 561.47,129.82 C561.70,129.05 562.27,127.38 562.52,126.53 C562.76,125.69 563.34,123.20 563.57,122.59 C563.80,121.98 564.27,121.35 564.49,121.28 C564.70,121.20 565.18,122.16 565.41,121.93 C565.64,121.70 566.21,119.38 566.46,119.31 C566.71,119.23 567.28,120.89 567.51,121.28 C567.74,121.66 568.22,122.51 568.43,122.59 C568.65,122.67 569.12,122.01 569.35,121.93 C569.58,121.86 570.20,122.01 570.40,121.93 C570.60,121.86 570.88,121.89 571.06,121.28 C571.24,120.66 571.79,116.83 571.97,116.68 C572.15,116.53 572.43,119.43 572.63,119.96 C572.83,120.50 573.45,120.97 573.68,121.28 C573.91,121.58 574.38,122.28 574.60,122.59 C574.81,122.90 575.29,124.06 575.52,123.91 C575.75,123.75 576.37,121.35 576.57,121.28 C576.77,121.20 577.04,123.40 577.23,123.25 C577.41,123.09 577.92,119.96 578.15,119.96 C578.38,119.96 578.95,123.25 579.20,123.25 C579.44,123.25 580.02,120.12 580.25,119.96 C580.48,119.81 580.91,121.55 581.17,121.93 C581.43,122.32 582.18,122.94 582.48,123.25 C582.79,123.55 583.54,124.72 583.80,124.56 C584.06,124.41 584.52,122.78 584.72,121.93 C584.91,121.09 585.30,117.95 585.50,117.34 C585.70,116.72 586.21,116.68 586.42,116.68 C586.64,116.68 587.11,117.11 587.34,117.34 C587.57,117.57 588.15,118.73 588.39,118.65 C588.64,118.57 589.22,116.60 589.45,116.68 C589.68,116.76 590.10,118.92 590.36,119.31 C590.63,119.69 591.37,119.73 591.68,119.96 C591.99,120.19 592.73,120.74 592.99,121.28 C593.25,121.81 593.71,123.80 593.91,124.56 C594.11,125.33 594.50,127.31 594.70,127.85 C594.90,128.38 595.44,129.16 595.62,129.16 C595.80,129.16 596.08,128.38 596.28,127.85 C596.48,127.31 597.10,125.18 597.33,124.56 C597.56,123.95 598.03,122.90 598.25,122.59 C598.46,122.28 598.97,121.70 599.17,121.93 C599.37,122.16 599.76,123.72 599.96,124.56 C600.16,125.41 600.62,128.47 600.88,129.16 C601.14,129.85 601.88,130.24 602.19,130.47 C602.50,130.70 603.24,131.21 603.50,131.13 C603.76,131.05 604.22,130.43 604.42,129.82 C604.62,129.20 605.01,126.57 605.21,125.88 C605.41,125.19 605.92,124.14 606.13,123.91 C606.35,123.68 606.82,123.68 607.05,123.91 C607.28,124.14 607.86,125.72 608.10,125.88 C608.35,126.03 608.92,125.14 609.15,125.22 C609.38,125.30 609.86,126.46 610.07,126.53 C610.29,126.61 610.76,125.80 610.99,125.88 C611.22,125.95 611.80,126.65 612.04,127.19 C612.29,127.73 612.86,129.71 613.09,130.47 C613.32,131.24 613.75,133.15 614.01,133.76 C614.28,134.37 615.02,135.27 615.33,135.73 C615.64,136.19 616.41,137.32 616.64,137.70 C616.87,138.08 617.10,139.32 617.30,139.01 C617.50,138.71 618.12,135.92 618.35,135.07 C618.58,134.23 619.06,132.32 619.27,131.79 C619.48,131.25 619.96,130.55 620.19,130.47 C620.42,130.40 620.96,131.13 621.24,131.13 C621.52,131.13 622.25,130.58 622.55,130.47 C622.86,130.37 623.59,130.21 623.87,130.21 C624.14,130.21 624.69,130.14 624.92,130.47 C625.15,130.81 625.62,132.57 625.84,133.10 C626.05,133.64 626.53,134.92 626.76,135.07 C626.99,135.23 627.56,134.80 627.81,134.42 C628.06,134.03 628.63,132.02 628.86,131.79 C629.09,131.56 629.57,131.83 629.78,132.45 C630.00,133.06 630.50,136.81 630.70,137.04 C630.90,137.27 631.31,135.18 631.49,134.42 C631.67,133.65 632.09,131.32 632.28,130.47 C632.46,129.63 632.87,127.11 633.07,127.19 C633.26,127.27 633.80,129.98 633.99,131.13 C634.17,132.28 634.47,136.74 634.64,137.04 C634.81,137.35 635.23,134.07 635.43,133.76 C635.63,133.45 636.14,134.19 636.35,134.42 C636.56,134.65 637.04,135.42 637.27,135.73 C637.50,136.04 638.12,136.74 638.32,137.04 C638.52,137.35 638.79,138.05 638.98,138.36 C639.16,138.66 639.70,139.59 639.90,139.67 C640.10,139.75 640.49,138.86 640.69,139.01 C640.89,139.17 641.42,140.91 641.61,140.99 C641.79,141.06 642.11,139.90 642.26,139.67 C642.42,139.44 642.77,138.94 642.92,139.01 C643.07,139.09 643.38,139.95 643.58,140.33 C643.78,140.71 644.40,141.92 644.63,142.30 C644.86,142.68 645.33,143.23 645.55,143.61 C645.76,144.00 646.24,145.12 646.47,145.58 C646.70,146.04 647.29,147.17 647.52,147.55 C647.75,147.94 648.24,148.41 648.44,148.87 C648.64,149.33 649.07,150.88 649.23,151.50 C649.38,152.11 649.61,154.05 649.75,154.12 C649.89,154.20 650.16,151.76 650.41,152.15 C650.66,152.54 651.61,156.07 651.87,157.46 C652.12,158.85 652.43,162.80 652.59,164.07 C652.74,165.33 653.02,167.99 653.19,168.27 C653.36,168.55 653.82,166.82 654.03,166.47 C654.24,166.12 654.78,165.34 654.99,165.27 C655.20,165.20 655.64,165.59 655.83,165.87 C656.03,166.15 656.46,167.25 656.67,167.67 C656.88,168.09 657.41,169.33 657.63,169.47 C657.86,169.61 658.38,168.80 658.60,168.87 C658.81,168.94 659.24,170.21 659.44,170.07 C659.63,169.93 660.10,167.81 660.28,167.67 C660.46,167.53 660.82,168.94 661.00,168.87 C661.18,168.80 661.64,167.42 661.84,167.07 C662.04,166.72 662.50,166.15 662.68,165.87 C662.86,165.59 663.25,164.46 663.40,164.67 C663.56,164.88 663.88,167.11 664.00,167.67 C664.13,168.23 664.36,169.96 664.48,169.47 C664.61,168.98 664.93,164.94 665.08,163.47 C665.24,161.99 665.62,158.47 665.80,156.86 C665.99,155.25 666.45,150.35 666.65,149.65 C666.84,148.95 667.30,150.01 667.49,150.85 C667.67,151.69 668.02,155.46 668.21,156.86 C668.39,158.26 668.85,161.88 669.05,162.87 C669.24,163.85 669.71,165.27 669.89,165.27 C670.07,165.27 670.46,163.43 670.61,162.87 C670.76,162.30 671.07,161.58 671.21,160.46 C671.35,159.34 671.69,155.22 671.81,153.25 C671.94,151.29 672.18,145.81 672.29,143.64 C672.40,141.47 672.72,135.68 672.77,134.63" fill="none" stroke="#000" stroke-width="1.3" stroke-linejoin="round"/>
<line x1="402.50" y1="237.50" x2="402.50" y2="234.20" stroke="#484848" stroke-width="1.2"/>
<line x1="402.50" y1="44.55" x2="402.50" y2="47.85" stroke="#484848" stroke-width="1.2"/>
<line x1="478.43" y1="237.50" x2="478.43" y2="234.20" stroke="#484848" stroke-width="1.2"/>
<line x1="478.43" y1="44.55" x2="478.43" y2="47.85" stroke="#484848" stroke-width="1.2"/>
<line x1="554.35" y1="237.50" x2="554.35" y2="234.20" stroke="#484848" stroke-width="1.2"/>
<line x1="554.35" y1="44.55" x2="554.35" y2="47.85" stroke="#484848" stroke-width="1.2"/>
<line x1="630.28" y1="237.50" x2="630.28" y2="234.20" stroke="#484848" stroke-width="1.2"/>
<line x1="630.28" y1="44.55" x2="630.28" y2="47.85" stroke="#484848" stroke-width="1.2"/>
<line x1="672.80" y1="237.50" x2="672.80" y2="234.20" stroke="#484848" stroke-width="1.2"/>
<line x1="672.80" y1="44.55" x2="672.80" y2="47.85" stroke="#484848" stroke-width="1.2"/>
<line x1="402.50" y1="237.50" x2="405.80" y2="237.50" stroke="#484848" stroke-width="1.2"/>
<line x1="672.80" y1="237.50" x2="669.50" y2="237.50" stroke="#484848" stroke-width="1.2"/>
<line x1="402.50" y1="198.91" x2="405.80" y2="198.91" stroke="#484848" stroke-width="1.2"/>
<line x1="672.80" y1="198.91" x2="669.50" y2="198.91" stroke="#484848" stroke-width="1.2"/>
<line x1="402.50" y1="160.32" x2="405.80" y2="160.32" stroke="#484848" stroke-width="1.2"/>
<line x1="672.80" y1="160.32" x2="669.50" y2="160.32" stroke="#484848" stroke-width="1.2"/>
<line x1="402.50" y1="121.73" x2="405.80" y2="121.73" stroke="#484848" stroke-width="1.2"/>
<line x1="672.80" y1="121.73" x2="669.50" y2="121.73" stroke="#484848" stroke-width="1.2"/>
<line x1="402.50" y1="83.14" x2="405.80" y2="83.14" stroke="#484848" stroke-width="1.2"/>
<line x1="672.80" y1="83.14" x2="669.50" y2="83.14" stroke="#484848" stroke-width="1.2"/>
<line x1="402.50" y1="44.55" x2="405.80" y2="44.55" stroke="#484848" stroke-width="1.2"/>
<line x1="672.80" y1="44.55" x2="669.50" y2="44.55" stroke="#484848" stroke-width="1.2"/>
<rect x="402.50" y="44.55" width="270.30" height="192.95" fill="none" stroke="#484848" stroke-width="1.3"/>
<text x="402.50" y="258.00" font-family="Liberation Sans" font-size="14.9" fill="#1c1c1c" stroke="#1c1c1c" stroke-width="0.3" text-anchor="middle">0</text>
<text x="478.43" y="258.00" font-family="Liberation Sans" font-size="14.9" fill="#1c1c1c" stroke="#1c1c1c" stroke-width="0.3" text-anchor="middle">50</text>
<text x="554.35" y="258.00" font-family="Liberation Sans" font-size="14.9" fill="#1c1c1c" stroke="#1c1c1c" stroke-width="0.3" text-anchor="middle">100</text>
<text x="630.28" y="258.00" font-family="Liberation Sans" font-size="14.9" fill="#1c1c1c" stroke="#1c1c1c" stroke-width="0.3" text-anchor="middle">150</text>
<text x="672.80" y="258.00" font-family="Liberation Sans" font-size="14.9" fill="#1c1c1c" stroke="#1c1c1c" stroke-width="0.3" text-anchor="middle">178</text>
<text x="397.60" y="243.30" font-family="Liberation Sans" font-size="14.9" fill="#1c1c1c" stroke="#1c1c1c" stroke-width="0.3" text-anchor="end">0</text>
<text x="397.60" y="204.71" font-family="Liberation Sans" font-size="14.9" fill="#1c1c1c" stroke="#1c1c1c" stroke-width="0.3" text-anchor="end">10</text>
<text x="397.60" y="166.12" font-family="Liberation Sans" font-size="14.9" fill="#1c1c1c" stroke="#1c1c1c" stroke-width="0.3" text-anchor="end">20</text>
<text x="397.60" y="127.53" font-family="Liberation Sans" font-size="14.9" fill="#1c1c1c" stroke="#1c1c1c" stroke-width="0.3" text-anchor="end">30</text>
<text x="397.60" y="88.94" font-family="Liberation Sans" font-size="14.9" fill="#1c1c1c" stroke="#1c1c1c" stroke-width="0.3" text-anchor="end">40</text>
<text x="397.60" y="50.35" font-family="Liberation Sans" font-size="14.9" fill="#1c1c1c" stroke="#1c1c1c" stroke-width="0.3" text-anchor="end">50</text>
<text x="410.90" y="67.55" font-family="Liberation Serif" font-weight="bold" font-size="20.6" fill="#000" textLength="24.8" lengthAdjust="spacingAndGlyphs">(b)</text>
<text x="537.35" y="278.40" font-family="Liberation Serif" font-size="19.5" fill="#000" text-anchor="middle" textLength="110" lengthAdjust="spacingAndGlyphs">Colatitude (°)</text>
<g transform="translate(368.90,0.00) rotate(-90)" fill="#000">
<path d="M-236.70,-13.9 L-240.60,-5.1 L-236.70,4.1" fill="none" stroke="#000" stroke-width="0.9"/>
<text x="-231.35" y="0" font-family="Liberation Serif" font-size="19.5" text-anchor="middle" font-style="italic">θ</text>
<text x="-216.75" y="2.7" font-family="Liberation Serif" font-size="13.5" text-anchor="middle" textLength="21.0" lengthAdjust="spacingAndGlyphs">min</text>
<text x="-201.25" y="0" font-family="Liberation Serif" font-size="20.6" text-anchor="middle">(</text>
<text x="-193.65" y="0" font-family="Liberation Serif" font-size="19.5" text-anchor="middle" font-weight="bold">r</text>
<text x="-186.30" y="0" font-family="Liberation Serif" font-size="20.6" text-anchor="middle">)</text>
<path d="M-181.30,-13.9 L-177.30,-5.1 L-181.30,4.1" fill="none" stroke="#000" stroke-width="0.9"/>
<text x="-166.90" y="2.7" font-family="Liberation Serif" font-size="13.5" text-anchor="middle" textLength="17.0" lengthAdjust="spacingAndGlyphs">lon</text>
<text x="-146.70" y="0" font-family="Liberation Serif" font-size="20.6" text-anchor="middle">(</text>
<text x="-124.70" y="0" font-family="Liberation Serif" font-size="19.5" text-anchor="middle" textLength="38.6" lengthAdjust="spacingAndGlyphs">error</text>
<text x="-93.00" y="2.6" font-family="Liberation Serif" font-size="24" text-anchor="middle">≤</text>
<text x="-69.40" y="0" font-family="Liberation Serif" font-size="19.5" text-anchor="middle" textLength="33.3" lengthAdjust="spacingAndGlyphs">0.23</text>
<text x="-50.25" y="0" font-family="Liberation Serif" font-size="19.5" text-anchor="middle">°</text>
<text x="-43.05" y="0" font-family="Liberation Serif" font-size="20.6" text-anchor="middle">)</text>
</g>
<line x1="122.58" y1="303.00" x2="122.58" y2="495.90" stroke="#e0e0e0" stroke-width="1"/>
<line x1="197.67" y1="303.00" x2="197.67" y2="495.90" stroke="#e0e0e0" stroke-width="1"/>
<line x1="272.75" y1="303.00" x2="272.75" y2="495.90" stroke="#e0e0e0" stroke-width="1"/>
<line x1="47.50" y1="457.32" x2="317.80" y2="457.32" stroke="#e0e0e0" stroke-width="1"/>
<line x1="47.50" y1="418.74" x2="317.80" y2="418.74" stroke="#e0e0e0" stroke-width="1"/>
<line x1="47.50" y1="380.16" x2="317.80" y2="380.16" stroke="#e0e0e0" stroke-width="1"/>
<line x1="47.50" y1="341.58" x2="317.80" y2="341.58" stroke="#e0e0e0" stroke-width="1"/>
<path d="M47.67,495.42 L48.29,494.21 L48.90,493.00 L49.52,491.79 L50.14,490.58 L50.76,489.38 L51.38,488.17 L52.01,486.97 L52.63,485.76 L53.26,484.55 L53.89,483.35 L54.52,482.14 L55.15,480.94 L55.78,479.74 L56.41,478.53 L57.05,477.33 L57.68,476.12 L58.32,474.92 L58.96,473.72 L59.59,472.52 L60.23,471.31 L60.87,470.11 L61.51,468.91 L62.16,467.71 L62.80,466.51 L63.44,465.31 L64.09,464.11 L64.73,462.91 L65.38,461.71 L66.03,460.51 L66.67,459.31 L67.32,458.11 L67.97,456.91 L68.62,455.71 L69.27,454.51 L69.92,453.31 L70.57,452.11 L71.22,450.91 L71.87,449.71 L72.52,448.51 L73.18,447.31 L73.83,446.12 L74.48,444.92 L75.14,443.72 L75.79,442.52 L76.44,441.32 L77.10,440.12 L77.75,438.93 L78.41,437.73 L79.06,436.53 L79.72,435.33 L80.37,434.13 L81.03,432.93 L81.68,431.74 L82.34,430.54 L82.99,429.34 L83.64,428.14 L84.30,426.94 L84.95,425.75 L85.61,424.55 L86.26,423.35 L86.91,422.15 L87.57,420.95 L88.22,419.75 L88.87,418.55 L89.52,417.36 L90.18,416.16 L90.83,414.96 L91.48,413.76 L92.13,412.56 L92.78,411.36 L93.43,410.16 L94.08,408.96 L94.72,407.76 L95.37,406.56 L96.02,405.36 L96.66,404.16 L97.31,402.96 L97.95,401.76 L98.60,400.55 L99.24,399.35 L99.88,398.15 L100.52,396.95 L101.16,395.75 L101.80,394.54 L102.44,393.34 L103.08,392.14 L103.71,390.93 L104.35,389.73 L104.98,388.53 L105.61,387.32 L106.24,386.12 L106.87,384.91 L107.50,383.71 L108.13,382.50 L108.76,381.29 L109.38,380.09 L110.01,378.88 L110.63,377.67 L111.25,376.47 L111.87,375.26 L112.49,374.05 L113.10,372.84 L113.72,371.63 L114.33,370.42 L114.94,369.21 L115.55,368.00 L116.16,366.79 L116.77,365.58 L117.37,364.37 L117.98,363.15 L118.58,361.94 L119.18,360.73 L119.77,359.51 L120.37,358.30 L120.96,357.08 L121.56,355.87 L122.15,354.65 L122.74,353.43 L123.32,352.22 L123.91,351.00 L124.49,349.78 L125.08,348.56 L125.67,347.35 L126.26,346.13 L126.85,344.91 L127.45,343.69 L128.05,342.47 L128.65,341.26 L129.26,340.04 L129.87,338.82 L130.49,337.61 L131.11,336.39 L131.75,335.18 L132.39,333.96 L133.03,332.75 L133.69,331.54 L134.36,330.33 L135.04,329.12 L135.73,327.91 L136.43,326.70 L137.14,325.50 L137.86,324.29 L138.60,323.09 L139.35,321.89 L140.12,320.69 L140.90,319.50 L141.71,318.34 L142.55,317.20 L143.41,316.10 L144.31,315.05 L145.25,314.06 L146.24,313.14 L147.27,312.30 L148.35,311.54 L149.49,310.88 L150.69,310.33 L151.94,309.90 L153.21,309.60 L154.48,309.45 L155.71,309.48 L156.89,309.68 L157.98,310.09 L158.98,310.70 L159.89,311.48 L160.72,312.41 L161.49,313.46 L162.19,314.62 L162.84,315.85 L163.45,317.14 L164.02,318.47 L164.57,319.80 L165.09,321.14 L165.59,322.47 L166.07,323.81 L166.53,325.14 L166.97,326.48 L167.39,327.81 L167.78,329.15 L168.16,330.49 L168.52,331.82 L168.87,333.16 L169.19,334.50 L169.50,335.84 L169.80,337.18 L170.08,338.52 L170.34,339.86 L170.59,341.20 L170.83,342.54 L171.06,343.88 L171.27,345.22 L171.47,346.57 L171.66,347.91 L171.85,349.25 L172.02,350.60 L172.18,351.94 L172.33,353.29 L172.48,354.63 L172.62,355.98 L172.76,357.33 L172.88,358.68 L173.01,360.03 L173.13,361.38 L173.24,362.73 L173.35,364.08 L173.46,365.43 L173.57,366.78 L173.67,368.13 L173.78,369.49 L173.88,370.84 L173.98,372.20 L174.09,373.56 L174.19,374.91 L174.30,376.27 L174.40,377.63 L174.50,378.99 L174.61,380.35 L174.71,381.71 L174.82,383.07 L174.92,384.43 L175.03,385.79 L175.13,387.15 L175.24,388.52 L175.34,389.88 L175.44,391.24 L175.55,392.60 L175.65,393.96 L175.76,395.33 L175.86,396.69 L175.97,398.05 L176.08,399.41 L176.18,400.77 L176.29,402.14 L176.39,403.50 L176.50,404.86 L176.60,406.22 L176.71,407.58 L176.82,408.94 L176.92,410.30 L177.03,411.65 L177.14,413.01 L177.25,414.37 L177.35,415.73 L177.46,417.08 L177.57,418.44 L177.68,419.79 L177.79,421.14 L177.90,422.49 L178.00,423.85 L178.11,425.20 L178.22,426.54 L178.33,427.89 L178.44,429.24 L178.55,430.59 L178.67,431.93 L178.78,433.28 L178.89,434.63 L178.99,435.97 L179.10,437.33 L179.21,438.68 L179.32,440.03 L179.42,441.39 L179.53,442.76 L179.63,444.12 L179.73,445.49 L179.83,446.87 L179.93,448.25 L180.03,449.64 L180.12,451.04 L180.21,452.43 L180.30,453.83 L180.39,455.23 L180.48,456.63 L180.56,458.02 L180.65,459.40 L180.73,460.77 L180.81,462.14 L180.89,463.49 L180.96,464.82 L181.04,466.14 L181.11,467.44 L181.19,468.72 L181.26,469.98 L181.33,471.22 L181.40,472.45 L181.47,473.68 L181.54,474.95 L181.61,476.25 L181.67,477.62 L181.74,479.06 L181.80,480.59 L181.87,482.23 L181.93,483.99 L181.99,485.82 L182.05,487.61 L182.11,489.24 L182.17,490.61 L182.23,491.61 L182.29,492.14 L182.36,492.09 L182.42,491.47 L182.48,490.39 L182.54,488.96 L182.60,487.30 L182.66,485.50 L182.72,483.67 L182.78,481.93 L182.84,480.31 L182.91,478.79 L182.97,477.37 L183.03,476.02 L183.10,474.72 L183.17,473.46 L183.24,472.23 L183.31,471.00 L183.39,469.76 L183.47,468.50 L183.55,467.22 L183.64,465.91 L183.73,464.59 L183.82,463.25 L183.92,461.90 L184.02,460.54 L184.11,459.16 L184.22,457.78 L184.32,456.39 L184.42,454.99 L184.53,453.60 L184.63,452.20 L184.74,450.80 L184.85,449.41 L184.95,448.02 L185.06,446.64 L185.17,445.27 L185.27,443.90 L185.38,442.53 L185.49,441.17 L185.59,439.81 L185.70,438.46 L185.80,437.10 L185.91,435.75 L186.01,434.40 L186.11,433.06 L186.22,431.71 L186.32,430.36 L186.42,429.02 L186.52,427.67 L186.62,426.32 L186.72,424.97 L186.82,423.62 L186.91,422.26 L187.01,420.91 L187.11,419.56 L187.20,418.20 L187.30,416.84 L187.39,415.49 L187.49,414.13 L187.58,412.77 L187.68,411.41 L187.77,410.05 L187.87,408.69 L187.96,407.33 L188.06,405.97 L188.15,404.61 L188.25,403.24 L188.35,401.88 L188.44,400.52 L188.54,399.16 L188.64,397.79 L188.74,396.43 L188.84,395.07 L188.94,393.71 L189.04,392.34 L189.15,390.98 L189.25,389.62 L189.36,388.26 L189.47,386.90 L189.58,385.54 L189.69,384.18 L189.80,382.82 L189.92,381.46 L190.03,380.10 L190.15,378.74 L190.27,377.39 L190.39,376.03 L190.52,374.68 L190.64,373.33 L190.77,371.97 L190.91,370.62 L191.04,369.27 L191.18,367.93 L191.32,366.58 L191.46,365.23 L191.60,363.89 L191.75,362.54 L191.91,361.20 L192.06,359.86 L192.22,358.51 L192.39,357.17 L192.56,355.83 L192.73,354.49 L192.91,353.15 L193.09,351.81 L193.28,350.46 L193.48,349.12 L193.67,347.78 L193.88,346.44 L194.09,345.09 L194.31,343.75 L194.53,342.41 L194.76,341.06 L195.00,339.71 L195.24,338.37 L195.49,337.02 L195.75,335.67 L196.02,334.32 L196.29,332.96 L196.57,331.61 L196.86,330.25 L197.16,328.90 L197.46,327.54 L197.78,326.18 L198.10,324.81 L198.43,323.45 L198.77,322.08 L199.12,320.71 L199.48,319.34 L199.86,317.97 L200.26,316.61 L200.71,315.30 L201.21,314.04 L201.79,312.84 L202.45,311.73 L203.21,310.73 L204.08,309.84 L205.08,309.09 L206.17,308.50 L207.33,308.10 L208.54,307.92 L209.77,307.97 L211.00,308.25 L212.23,308.72 L213.43,309.36 L214.61,310.14 L215.74,311.04 L216.82,312.02 L217.84,313.05 L218.78,314.11 L219.66,315.20 L220.48,316.30 L221.26,317.43 L222.01,318.56 L222.73,319.70 L223.44,320.85 L224.14,322.00 L224.85,323.16 L225.55,324.31 L226.25,325.47 L226.95,326.64 L227.65,327.80 L228.34,328.97 L229.04,330.13 L229.73,331.30 L230.42,332.48 L231.11,333.65 L231.80,334.82 L232.49,336.00 L233.17,337.18 L233.85,338.36 L234.54,339.54 L235.22,340.72 L235.89,341.90 L236.57,343.08 L237.25,344.27 L237.92,345.45 L238.59,346.64 L239.26,347.82 L239.93,349.01 L240.60,350.20 L241.27,351.38 L241.93,352.57 L242.59,353.76 L243.26,354.95 L243.92,356.14 L244.58,357.34 L245.24,358.53 L245.89,359.72 L246.55,360.92 L247.20,362.11 L247.86,363.31 L248.51,364.50 L249.16,365.70 L249.81,366.89 L250.46,368.09 L251.11,369.29 L251.75,370.49 L252.40,371.69 L253.04,372.89 L253.69,374.09 L254.33,375.29 L254.97,376.49 L255.61,377.69 L256.25,378.89 L256.89,380.10 L257.53,381.30 L258.17,382.50 L258.81,383.71 L259.44,384.91 L260.08,386.12 L260.71,387.32 L261.34,388.53 L261.98,389.73 L262.61,390.94 L263.24,392.15 L263.87,393.35 L264.50,394.56 L265.13,395.77 L265.76,396.98 L266.39,398.19 L267.02,399.39 L267.65,400.60 L268.27,401.81 L268.90,403.02 L269.53,404.23 L270.15,405.44 L270.78,406.65 L271.40,407.86 L272.03,409.07 L272.65,410.28 L273.28,411.49 L273.90,412.70 L274.52,413.91 L275.15,415.12 L275.77,416.34 L276.39,417.55 L277.02,418.76 L277.64,419.97 L278.26,421.18 L278.89,422.39 L279.51,423.60 L280.13,424.82 L280.75,426.03 L281.38,427.24 L282.00,428.45 L282.62,429.66 L283.24,430.87 L283.87,432.08 L284.49,433.30 L285.11,434.51 L285.73,435.72 L286.36,436.93 L286.98,438.14 L287.61,439.35 L288.23,440.56 L288.85,441.77 L289.48,442.98 L290.10,444.19 L290.73,445.40 L291.35,446.61 L291.98,447.82 L292.61,449.03 L293.23,450.24 L293.86,451.45 L294.49,452.66 L295.12,453.87 L295.74,455.08 L296.37,456.28 L297.00,457.49 L297.63,458.70 L298.26,459.91 L298.90,461.11 L299.53,462.32 L300.16,463.52 L300.79,464.73 L301.43,465.94 L302.06,467.14 L302.70,468.34 L303.34,469.55 L303.97,470.75 L304.61,471.96 L305.25,473.16 L305.89,474.36 L306.53,475.56 L307.17,476.76 L307.82,477.96 L308.46,479.16 L309.11,480.36 L309.75,481.56 L310.40,482.76 L311.05,483.96 L311.69,485.16 L312.34,486.35 L313.00,487.55 L313.65,488.75 L314.30,489.94 L314.96,491.14 L315.61,492.33 L316.27,493.52 L316.93,494.72 L317.59,495.91" fill="none" stroke="#ff0000" stroke-width="2.5" stroke-linejoin="round" stroke-linecap="butt"/>
<path d="M47.70,465.14 C47.74,466.13 47.96,473.21 48.07,473.64 C48.17,474.07 48.45,469.74 48.58,468.84 C48.71,467.93 49.02,466.48 49.18,465.88 C49.33,465.27 49.73,464.35 49.91,463.66 C50.10,462.97 50.63,460.14 50.80,459.96 C50.97,459.79 51.24,461.66 51.39,462.18 C51.55,462.70 51.92,464.05 52.13,464.40 C52.35,464.74 53.03,465.14 53.24,465.14 C53.46,465.14 53.81,465.35 53.98,464.40 C54.15,463.45 54.55,458.04 54.72,457.01 C54.89,455.97 55.29,455.57 55.46,455.53 C55.63,455.48 56.03,456.20 56.20,456.64 C56.37,457.07 56.77,458.58 56.94,459.22 C57.11,459.87 57.51,461.71 57.68,462.18 C57.85,462.66 58.25,463.46 58.42,463.29 C58.59,463.12 58.94,461.22 59.16,460.70 C59.37,460.18 60.01,459.29 60.27,458.85 C60.52,458.42 61.16,458.08 61.38,457.01 C61.59,455.93 61.94,450.95 62.11,449.61 C62.29,448.27 62.68,445.98 62.85,445.55 C63.03,445.11 63.42,445.61 63.59,445.91 C63.77,446.22 64.12,448.05 64.33,448.13 C64.55,448.22 65.18,447.00 65.44,446.65 C65.70,446.31 66.29,445.48 66.55,445.18 C66.81,444.87 67.40,444.11 67.66,444.07 C67.92,444.02 68.51,444.63 68.77,444.81 C69.03,444.98 69.65,445.42 69.88,445.55 C70.11,445.67 70.59,446.22 70.77,445.91 C70.94,445.61 71.19,444.35 71.36,442.96 C71.53,441.56 72.00,434.82 72.22,433.94 C72.44,433.06 72.99,435.59 73.25,435.42 C73.51,435.24 74.16,432.98 74.44,432.46 C74.71,431.94 75.36,430.98 75.62,430.98 C75.88,430.98 76.41,432.37 76.65,432.46 C76.90,432.54 77.43,432.06 77.69,431.72 C77.95,431.37 78.56,429.93 78.87,429.50 C79.18,429.07 80.04,428.71 80.35,428.02 C80.66,427.33 81.28,424.62 81.53,423.59 C81.79,422.55 82.28,419.84 82.57,419.15 C82.86,418.46 83.70,418.10 84.05,417.67 C84.39,417.24 85.23,416.14 85.53,415.45 C85.82,414.76 86.34,412.36 86.56,411.76 C86.79,411.15 87.22,410.36 87.45,410.28 C87.67,410.19 88.24,410.76 88.48,411.02 C88.73,411.28 89.30,412.75 89.52,412.50 C89.74,412.24 90.18,409.66 90.41,408.80 C90.63,407.94 91.20,405.71 91.44,405.10 C91.68,404.50 92.22,404.23 92.48,403.62 C92.74,403.02 93.38,400.62 93.66,399.93 C93.94,399.24 94.53,398.05 94.84,397.71 C95.15,397.36 96.03,396.97 96.32,396.97 C96.61,396.97 97.12,398.05 97.36,397.71 C97.60,397.36 98.13,394.70 98.39,394.01 C98.65,393.32 99.26,392.22 99.57,391.79 C99.89,391.36 100.74,390.75 101.05,390.31 C101.36,389.88 101.98,388.61 102.24,388.10 C102.50,387.58 103.01,386.40 103.27,385.88 C103.53,385.36 104.20,384.18 104.45,383.66 C104.71,383.14 105.23,381.96 105.49,381.44 C105.75,380.92 106.41,379.83 106.67,379.22 C106.93,378.62 107.47,376.87 107.71,376.27 C107.95,375.66 108.45,374.39 108.74,374.05 C109.04,373.70 109.91,373.31 110.22,373.31 C110.53,373.31 111.15,374.39 111.40,374.05 C111.66,373.70 112.22,371.39 112.44,370.35 C112.66,369.32 113.14,365.95 113.33,365.18 C113.52,364.40 113.89,363.61 114.07,363.70 C114.24,363.78 114.60,365.48 114.81,365.91 C115.01,366.35 115.58,367.57 115.84,367.39 C116.10,367.22 116.77,365.13 117.02,364.44 C117.28,363.75 117.81,362.44 118.06,361.48 C118.31,360.52 118.87,357.41 119.17,356.19 C119.47,354.97 120.34,351.71 120.65,351.02 C120.96,350.33 121.52,350.28 121.83,350.28 C122.14,350.28 122.96,351.10 123.31,351.02 C123.65,350.93 124.44,350.23 124.79,349.54 C125.13,348.85 125.96,345.88 126.27,345.10 C126.58,344.33 127.19,343.66 127.45,342.88 C127.71,342.11 128.28,339.22 128.48,338.45 C128.69,337.67 129.00,336.40 129.22,336.23 C129.45,336.06 130.15,337.31 130.41,336.97 C130.67,336.62 131.20,334.05 131.44,333.27 C131.68,332.50 132.22,330.75 132.48,330.31 C132.74,329.88 133.38,330.35 133.66,329.57 C133.94,328.80 134.58,324.52 134.84,323.66 C135.10,322.80 135.64,322.27 135.88,322.18 C136.12,322.09 136.65,322.75 136.91,322.92 C137.17,323.09 137.82,323.92 138.10,323.66 C138.37,323.40 139.02,321.39 139.28,320.70 C139.54,320.01 140.07,318.26 140.31,317.74 C140.56,317.23 141.09,316.35 141.35,316.27 C141.61,316.18 142.26,317.18 142.53,317.01 C142.81,316.83 143.46,315.22 143.72,314.79 C143.97,314.36 144.46,313.65 144.75,313.31 C145.04,312.96 145.88,311.92 146.23,311.83 C146.57,311.74 147.41,312.66 147.71,312.57 C148.00,312.48 148.52,311.52 148.74,311.09 C148.97,310.66 149.41,309.30 149.63,308.87 C149.85,308.44 150.41,307.60 150.67,307.39 C150.92,307.19 151.54,307.22 151.85,307.10 C152.16,306.98 153.03,306.41 153.33,306.36 C153.62,306.31 154.10,306.45 154.36,306.65 C154.62,306.86 155.29,307.79 155.55,308.13 C155.80,308.48 156.34,309.32 156.58,309.61 C156.82,309.91 157.36,310.39 157.62,310.65 C157.87,310.91 158.49,311.61 158.80,311.83 C159.11,312.05 159.93,312.43 160.28,312.57 C160.62,312.71 161.45,312.84 161.76,313.01 C162.07,313.19 162.68,313.67 162.94,314.05 C163.20,314.43 163.73,315.66 163.97,316.27 C164.22,316.87 164.75,318.53 165.01,319.22 C165.27,319.91 165.81,320.93 166.19,322.18 C166.58,323.43 167.86,328.07 168.30,329.94 C168.74,331.82 169.61,336.13 169.96,338.26 C170.31,340.40 171.00,345.91 171.29,348.24 C171.59,350.57 172.19,355.70 172.46,358.23 C172.73,360.75 173.37,367.35 173.62,369.87 C173.88,372.39 174.23,375.61 174.62,379.85 C175.02,384.10 176.53,400.70 177.01,406.26 C177.48,411.82 178.31,422.55 178.71,427.51 C179.10,432.47 180.03,443.81 180.41,448.77 C180.78,453.73 181.62,466.93 181.89,470.03 C182.17,473.13 182.57,475.34 182.74,475.34 C182.92,475.34 183.11,473.13 183.38,470.03 C183.66,466.93 184.66,453.73 185.08,448.77 C185.50,443.81 186.57,432.47 187.00,427.51 C187.42,422.55 188.36,411.82 188.70,406.26 C189.04,400.70 189.65,384.10 189.93,379.85 C190.21,375.61 190.80,372.39 191.09,369.87 C191.38,367.35 192.11,360.75 192.42,358.23 C192.73,355.70 193.42,350.57 193.75,348.24 C194.08,345.91 194.88,340.59 195.25,338.26 C195.62,335.93 196.56,330.42 196.91,328.28 C197.26,326.15 197.89,321.42 198.24,319.96 C198.59,318.51 199.52,316.58 199.91,315.80 C200.30,315.03 201.18,313.89 201.57,313.31 C201.96,312.73 202.85,311.40 203.23,310.81 C203.62,310.23 204.55,308.90 204.90,308.32 C205.25,307.74 205.94,306.02 206.23,305.82 C206.52,305.63 207.12,306.60 207.39,306.65 C207.67,306.71 208.27,306.22 208.56,306.32 C208.85,306.42 209.54,307.41 209.89,307.49 C210.24,307.56 211.20,306.99 211.55,306.99 C211.90,306.99 212.59,307.18 212.88,307.49 C213.17,307.79 213.74,309.19 214.05,309.61 C214.36,310.03 215.18,311.09 215.53,311.09 C215.87,311.09 216.75,309.87 217.01,309.61 C217.26,309.35 217.57,308.70 217.74,308.87 C217.92,309.04 218.28,310.66 218.48,311.09 C218.69,311.52 219.26,312.31 219.52,312.57 C219.78,312.83 220.43,313.31 220.70,313.31 C220.98,313.31 221.68,312.40 221.89,312.57 C222.09,312.74 222.30,314.01 222.48,314.79 C222.65,315.56 223.14,318.45 223.36,319.22 C223.59,320.00 224.16,321.10 224.40,321.44 C224.64,321.79 225.18,322.09 225.43,322.18 C225.69,322.27 226.39,322.01 226.62,322.18 C226.84,322.35 227.15,323.14 227.36,323.66 C227.56,324.18 228.13,325.93 228.39,326.62 C228.65,327.31 229.30,328.97 229.57,329.57 C229.85,330.18 230.50,331.36 230.76,331.79 C231.02,332.22 231.55,333.19 231.79,333.27 C232.03,333.36 232.60,332.36 232.83,332.53 C233.05,332.70 233.49,334.23 233.72,334.75 C233.94,335.27 234.51,336.45 234.75,336.97 C234.99,337.49 235.56,338.76 235.79,339.19 C236.01,339.62 236.45,340.06 236.67,340.67 C236.90,341.27 237.47,343.67 237.71,344.36 C237.95,345.05 238.52,346.24 238.74,346.58 C238.97,346.93 239.41,347.06 239.63,347.32 C239.85,347.58 240.42,348.45 240.67,348.80 C240.91,349.14 241.44,350.02 241.70,350.28 C241.96,350.54 242.61,350.76 242.88,351.02 C243.16,351.28 243.81,352.41 244.07,352.50 C244.33,352.58 244.89,351.58 245.10,351.76 C245.31,351.93 245.62,353.37 245.84,353.97 C246.07,354.58 246.77,356.33 247.02,356.93 C247.28,357.54 247.82,358.63 248.06,359.15 C248.30,359.67 248.84,360.85 249.09,361.37 C249.35,361.89 250.00,363.07 250.28,363.59 C250.55,364.10 251.20,365.29 251.46,365.80 C251.72,366.32 252.25,367.42 252.50,368.02 C252.74,368.63 253.27,370.46 253.53,370.98 C253.79,371.50 254.44,372.11 254.71,372.46 C254.99,372.80 255.64,373.51 255.90,373.94 C256.16,374.37 256.67,375.58 256.93,376.16 C257.19,376.73 257.87,378.21 258.13,378.87 C258.39,379.53 258.91,381.14 259.17,381.83 C259.43,382.52 260.04,384.18 260.35,384.79 C260.66,385.39 261.48,386.49 261.83,387.01 C262.17,387.52 262.96,388.71 263.31,389.22 C263.65,389.74 264.44,391.01 264.79,391.44 C265.13,391.87 265.96,392.40 266.27,392.92 C266.58,393.44 267.19,395.02 267.45,395.88 C267.71,396.74 268.19,399.62 268.48,400.31 C268.78,401.00 269.62,401.53 269.96,401.79 C270.31,402.05 271.10,402.19 271.44,402.53 C271.79,402.88 272.58,404.41 272.92,404.75 C273.27,405.10 274.05,405.14 274.40,405.49 C274.74,405.83 275.58,407.02 275.88,407.71 C276.17,408.40 276.65,410.63 276.91,411.40 C277.17,412.18 277.82,413.50 278.10,414.36 C278.37,415.22 279.02,417.76 279.28,418.80 C279.54,419.83 280.11,422.37 280.31,423.23 C280.52,424.10 280.83,426.11 281.05,426.19 C281.28,426.28 281.98,424.41 282.24,423.97 C282.50,423.54 283.03,422.58 283.27,422.50 C283.51,422.41 284.08,422.80 284.31,423.23 C284.53,423.67 284.97,425.33 285.19,426.19 C285.42,427.05 285.99,429.59 286.23,430.63 C286.47,431.66 287.04,434.20 287.26,435.06 C287.49,435.93 287.93,437.59 288.15,438.02 C288.38,438.45 288.89,438.59 289.19,438.76 C289.48,438.93 290.32,439.50 290.67,439.50 C291.01,439.50 291.85,438.68 292.14,438.76 C292.44,438.85 292.92,439.90 293.18,440.24 C293.44,440.59 294.05,441.46 294.36,441.72 C294.67,441.98 295.62,442.24 295.84,442.46 C296.06,442.68 296.11,443.08 296.27,443.59 C296.42,444.09 296.95,445.99 297.17,446.82 C297.40,447.65 297.98,449.87 298.21,450.70 C298.43,451.53 298.90,453.48 299.11,453.94 C299.32,454.39 299.82,454.81 300.02,454.58 C300.21,454.36 300.60,452.52 300.79,452.00 C300.99,451.47 301.49,450.21 301.70,450.06 C301.91,449.90 302.38,450.55 302.61,450.70 C302.83,450.85 303.43,451.50 303.64,451.35 C303.85,451.20 304.24,449.71 304.42,449.41 C304.60,449.11 305.01,448.61 305.19,448.76 C305.38,448.91 305.80,450.10 305.97,450.70 C306.14,451.31 306.44,453.11 306.62,453.94 C306.80,454.77 307.33,457.22 307.52,457.82 C307.72,458.42 308.12,459.34 308.30,459.11 C308.48,458.89 308.94,456.41 309.08,455.88 C309.21,455.35 309.34,454.28 309.46,454.58 C309.58,454.89 309.91,457.41 310.11,458.47 C310.31,459.52 310.92,462.58 311.15,463.64 C311.37,464.70 311.84,466.62 312.05,467.52 C312.26,468.43 312.76,470.50 312.96,471.40 C313.15,472.31 313.58,474.38 313.73,475.29 C313.88,476.19 314.13,478.34 314.25,479.17 C314.37,480.00 314.65,482.10 314.77,482.40 C314.89,482.70 315.15,482.21 315.29,481.76 C315.42,481.30 315.78,478.97 315.93,478.52 C316.08,478.07 316.43,477.80 316.58,477.87 C316.73,477.95 317.11,479.17 317.23,479.17 C317.35,479.17 317.57,478.03 317.62,477.87" fill="none" stroke="#000" stroke-width="1.3" stroke-linejoin="round"/>
<line x1="47.50" y1="495.90" x2="47.50" y2="492.60" stroke="#484848" stroke-width="1.2"/>
<line x1="47.50" y1="303.00" x2="47.50" y2="306.30" stroke="#484848" stroke-width="1.2"/>
<line x1="122.58" y1="495.90" x2="122.58" y2="492.60" stroke="#484848" stroke-width="1.2"/>
<line x1="122.58" y1="303.00" x2="122.58" y2="306.30" stroke="#484848" stroke-width="1.2"/>
<line x1="197.67" y1="495.90" x2="197.67" y2="492.60" stroke="#484848" stroke-width="1.2"/>
<line x1="197.67" y1="303.00" x2="197.67" y2="306.30" stroke="#484848" stroke-width="1.2"/>
<line x1="272.75" y1="495.90" x2="272.75" y2="492.60" stroke="#484848" stroke-width="1.2"/>
<line x1="272.75" y1="303.00" x2="272.75" y2="306.30" stroke="#484848" stroke-width="1.2"/>
<line x1="317.80" y1="495.90" x2="317.80" y2="492.60" stroke="#484848" stroke-width="1.2"/>
<line x1="317.80" y1="303.00" x2="317.80" y2="306.30" stroke="#484848" stroke-width="1.2"/>
<line x1="47.50" y1="495.90" x2="50.80" y2="495.90" stroke="#484848" stroke-width="1.2"/>
<line x1="317.80" y1="495.90" x2="314.50" y2="495.90" stroke="#484848" stroke-width="1.2"/>
<line x1="47.50" y1="457.32" x2="50.80" y2="457.32" stroke="#484848" stroke-width="1.2"/>
<line x1="317.80" y1="457.32" x2="314.50" y2="457.32" stroke="#484848" stroke-width="1.2"/>
<line x1="47.50" y1="418.74" x2="50.80" y2="418.74" stroke="#484848" stroke-width="1.2"/>
<line x1="317.80" y1="418.74" x2="314.50" y2="418.74" stroke="#484848" stroke-width="1.2"/>
<line x1="47.50" y1="380.16" x2="50.80" y2="380.16" stroke="#484848" stroke-width="1.2"/>
<line x1="317.80" y1="380.16" x2="314.50" y2="380.16" stroke="#484848" stroke-width="1.2"/>
<line x1="47.50" y1="341.58" x2="50.80" y2="341.58" stroke="#484848" stroke-width="1.2"/>
<line x1="317.80" y1="341.58" x2="314.50" y2="341.58" stroke="#484848" stroke-width="1.2"/>
<line x1="47.50" y1="303.00" x2="50.80" y2="303.00" stroke="#484848" stroke-width="1.2"/>
<line x1="317.80" y1="303.00" x2="314.50" y2="303.00" stroke="#484848" stroke-width="1.2"/>
<rect x="47.50" y="303.00" width="270.30" height="192.90" fill="none" stroke="#484848" stroke-width="1.3"/>
<text x="47.50" y="516.40" font-family="Liberation Sans" font-size="14.9" fill="#1c1c1c" stroke="#1c1c1c" stroke-width="0.3" text-anchor="middle">0</text>
<text x="122.58" y="516.40" font-family="Liberation Sans" font-size="14.9" fill="#1c1c1c" stroke="#1c1c1c" stroke-width="0.3" text-anchor="middle">50</text>
<text x="197.67" y="516.40" font-family="Liberation Sans" font-size="14.9" fill="#1c1c1c" stroke="#1c1c1c" stroke-width="0.3" text-anchor="middle">100</text>
<text x="272.75" y="516.40" font-family="Liberation Sans" font-size="14.9" fill="#1c1c1c" stroke="#1c1c1c" stroke-width="0.3" text-anchor="middle">150</text>
<text x="317.80" y="516.40" font-family="Liberation Sans" font-size="14.9" fill="#1c1c1c" stroke="#1c1c1c" stroke-width="0.3" text-anchor="middle">180</text>
<text x="42.60" y="501.70" font-family="Liberation Sans" font-size="14.9" fill="#1c1c1c" stroke="#1c1c1c" stroke-width="0.3" text-anchor="end">0</text>
<text x="42.60" y="463.12" font-family="Liberation Sans" font-size="14.9" fill="#1c1c1c" stroke="#1c1c1c" stroke-width="0.3" text-anchor="end">10</text>
<text x="42.60" y="424.54" font-family="Liberation Sans" font-size="14.9" fill="#1c1c1c" stroke="#1c1c1c" stroke-width="0.3" text-anchor="end">20</text>
<text x="42.60" y="385.96" font-family="Liberation Sans" font-size="14.9" fill="#1c1c1c" stroke="#1c1c1c" stroke-width="0.3" text-anchor="end">30</text>
<text x="42.60" y="347.38" font-family="Liberation Sans" font-size="14.9" fill="#1c1c1c" stroke="#1c1c1c" stroke-width="0.3" text-anchor="end">40</text>
<text x="42.60" y="308.80" font-family="Liberation Sans" font-size="14.9" fill="#1c1c1c" stroke="#1c1c1c" stroke-width="0.3" text-anchor="end">50</text>
<text x="55.90" y="326.00" font-family="Liberation Serif" font-weight="bold" font-size="20.6" fill="#000" textLength="24.8" lengthAdjust="spacingAndGlyphs">(c)</text>
<text x="182.35" y="536.80" font-family="Liberation Serif" font-size="19.5" fill="#000" text-anchor="middle" textLength="110" lengthAdjust="spacingAndGlyphs">Colatitude (°)</text>
<g transform="translate(13.90,258.45) rotate(-90)" fill="#000">
<path d="M-236.70,-13.9 L-240.60,-5.1 L-236.70,4.1" fill="none" stroke="#000" stroke-width="0.9"/>
<text x="-231.35" y="0" font-family="Liberation Serif" font-size="19.5" text-anchor="middle" font-style="italic">θ</text>
<text x="-216.75" y="2.7" font-family="Liberation Serif" font-size="13.5" text-anchor="middle" textLength="21.0" lengthAdjust="spacingAndGlyphs">min</text>
<text x="-201.25" y="0" font-family="Liberation Serif" font-size="20.6" text-anchor="middle">(</text>
<text x="-193.65" y="0" font-family="Liberation Serif" font-size="19.5" text-anchor="middle" font-weight="bold">r</text>
<text x="-186.30" y="0" font-family="Liberation Serif" font-size="20.6" text-anchor="middle">)</text>
<path d="M-181.30,-13.9 L-177.30,-5.1 L-181.30,4.1" fill="none" stroke="#000" stroke-width="0.9"/>
<text x="-166.90" y="2.7" font-family="Liberation Serif" font-size="13.5" text-anchor="middle" textLength="17.0" lengthAdjust="spacingAndGlyphs">lon</text>
<text x="-146.70" y="0" font-family="Liberation Serif" font-size="20.6" text-anchor="middle">(</text>
<text x="-124.70" y="0" font-family="Liberation Serif" font-size="19.5" text-anchor="middle" textLength="38.6" lengthAdjust="spacingAndGlyphs">error</text>
<text x="-93.00" y="2.6" font-family="Liberation Serif" font-size="24" text-anchor="middle">≤</text>
<text x="-69.40" y="0" font-family="Liberation Serif" font-size="19.5" text-anchor="middle" textLength="33.3" lengthAdjust="spacingAndGlyphs">0.24</text>
<text x="-50.25" y="0" font-family="Liberation Serif" font-size="19.5" text-anchor="middle">°</text>
<text x="-43.05" y="0" font-family="Liberation Serif" font-size="20.6" text-anchor="middle">)</text>
</g>
<line x1="477.58" y1="303.00" x2="477.58" y2="495.90" stroke="#e0e0e0" stroke-width="1"/>
<line x1="552.67" y1="303.00" x2="552.67" y2="495.90" stroke="#e0e0e0" stroke-width="1"/>
<line x1="627.75" y1="303.00" x2="627.75" y2="495.90" stroke="#e0e0e0" stroke-width="1"/>
<line x1="402.50" y1="457.32" x2="672.80" y2="457.32" stroke="#e0e0e0" stroke-width="1"/>
<line x1="402.50" y1="418.74" x2="672.80" y2="418.74" stroke="#e0e0e0" stroke-width="1"/>
<line x1="402.50" y1="380.16" x2="672.80" y2="380.16" stroke="#e0e0e0" stroke-width="1"/>
<line x1="402.50" y1="341.58" x2="672.80" y2="341.58" stroke="#e0e0e0" stroke-width="1"/>
<path d="M402.78,495.18 L403.57,494.22 L404.36,493.26 L405.15,492.29 L405.94,491.33 L406.73,490.36 L407.51,489.39 L408.29,488.42 L409.07,487.45 L409.85,486.47 L410.62,485.50 L411.40,484.52 L412.17,483.53 L412.94,482.55 L413.70,481.57 L414.47,480.58 L415.23,479.59 L415.99,478.60 L416.75,477.61 L417.51,476.61 L418.26,475.61 L419.01,474.62 L419.76,473.62 L420.51,472.61 L421.26,471.61 L422.00,470.60 L422.74,469.60 L423.48,468.59 L424.22,467.58 L424.95,466.56 L425.68,465.55 L426.41,464.53 L427.14,463.52 L427.87,462.50 L428.59,461.48 L429.31,460.45 L430.03,459.43 L430.75,458.40 L431.47,457.38 L432.18,456.35 L432.89,455.32 L433.60,454.28 L434.31,453.25 L435.01,452.22 L435.71,451.18 L436.41,450.14 L437.11,449.10 L437.80,448.06 L438.50,447.02 L439.19,445.98 L439.88,444.93 L440.56,443.88 L441.25,442.84 L441.93,441.79 L442.61,440.74 L443.29,439.69 L443.96,438.63 L444.64,437.58 L445.31,436.52 L445.97,435.47 L446.64,434.41 L447.31,433.35 L447.97,432.29 L448.63,431.23 L449.28,430.16 L449.94,429.10 L450.59,428.04 L451.24,426.97 L451.89,425.90 L452.54,424.83 L453.18,423.76 L453.82,422.69 L454.46,421.62 L455.10,420.55 L455.73,419.48 L456.36,418.40 L456.99,417.33 L457.62,416.25 L458.25,415.17 L458.87,414.09 L459.49,413.01 L460.11,411.93 L460.73,410.85 L461.35,409.77 L461.96,408.69 L462.57,407.61 L463.19,406.52 L463.80,405.44 L464.40,404.35 L465.01,403.27 L465.62,402.18 L466.22,401.09 L466.83,400.00 L467.43,398.92 L468.03,397.83 L468.63,396.74 L469.23,395.65 L469.83,394.56 L470.43,393.47 L471.03,392.37 L471.63,391.28 L472.22,390.19 L472.82,389.10 L473.42,388.01 L474.02,386.91 L474.61,385.82 L475.21,384.73 L475.81,383.63 L476.40,382.54 L477.00,381.44 L477.60,380.35 L478.20,379.25 L478.79,378.16 L479.39,377.06 L479.99,375.97 L480.59,374.88 L481.19,373.78 L481.79,372.69 L482.40,371.59 L483.00,370.50 L483.60,369.40 L484.21,368.31 L484.82,367.21 L485.42,366.12 L486.03,365.02 L486.64,363.93 L487.26,362.84 L487.87,361.74 L488.49,360.65 L489.10,359.56 L489.72,358.46 L490.34,357.37 L490.97,356.28 L491.59,355.19 L492.22,354.10 L492.85,353.01 L493.48,351.92 L494.11,350.83 L494.75,349.74 L495.38,348.65 L496.03,347.56 L496.67,346.47 L497.32,345.39 L497.96,344.30 L498.62,343.21 L499.27,342.13 L499.93,341.05 L500.59,339.96 L501.25,338.88 L501.92,337.80 L502.59,336.72 L503.27,335.64 L503.94,334.56 L504.62,333.48 L505.31,332.40 L506.00,331.32 L506.69,330.25 L507.38,329.17 L508.09,328.10 L508.80,327.06 L509.53,326.08 L510.28,325.19 L511.07,324.41 L511.89,323.77 L512.77,323.30 L513.69,323.03 L514.67,322.99 L515.72,323.20 L516.83,323.67 L517.96,324.36 L519.07,325.23 L520.12,326.24 L521.08,327.34 L521.89,328.50 L522.55,329.67 L523.06,330.85 L523.45,332.05 L523.77,333.25 L524.03,334.45 L524.26,335.66 L524.49,336.88 L524.71,338.09 L524.92,339.31 L525.13,340.53 L525.33,341.75 L525.52,342.97 L525.71,344.19 L525.90,345.42 L526.08,346.65 L526.25,347.88 L526.42,349.11 L526.59,350.34 L526.75,351.57 L526.91,352.81 L527.07,354.04 L527.23,355.28 L527.38,356.52 L527.53,357.76 L527.69,358.99 L527.84,360.23 L527.99,361.48 L528.14,362.72 L528.29,363.96 L528.44,365.20 L528.58,366.44 L528.73,367.69 L528.88,368.93 L529.02,370.17 L529.17,371.42 L529.31,372.66 L529.46,373.91 L529.60,375.15 L529.75,376.39 L529.89,377.64 L530.03,378.88 L530.17,380.13 L530.31,381.37 L530.45,382.62 L530.59,383.86 L530.72,385.10 L530.86,386.35 L531.00,387.59 L531.13,388.83 L531.27,390.07 L531.40,391.32 L531.53,392.56 L531.66,393.80 L531.79,395.04 L531.92,396.28 L532.05,397.53 L532.18,398.77 L532.30,400.01 L532.43,401.25 L532.55,402.49 L532.67,403.73 L532.79,404.97 L532.91,406.21 L533.03,407.46 L533.15,408.70 L533.27,409.94 L533.38,411.18 L533.50,412.42 L533.61,413.66 L533.72,414.91 L533.83,416.15 L533.94,417.39 L534.05,418.63 L534.15,419.88 L534.26,421.12 L534.36,422.36 L534.46,423.61 L534.56,424.85 L534.66,426.09 L534.76,427.34 L534.85,428.58 L534.95,429.83 L535.04,431.07 L535.13,432.32 L535.22,433.57 L535.31,434.81 L535.39,436.06 L535.48,437.31 L535.56,438.56 L535.64,439.81 L535.72,441.05 L535.80,442.30 L535.87,443.55 L535.95,444.81 L536.02,446.06 L536.09,447.31 L536.16,448.56 L536.22,449.82 L536.29,451.07 L536.35,452.33 L536.41,453.58 L536.47,454.84 L536.52,456.09 L536.58,457.35 L536.63,458.61 L536.68,459.87 L536.73,461.13 L536.78,462.39 L536.82,463.64 L536.87,464.89 L536.91,466.13 L536.95,467.36 L537.00,468.58 L537.04,469.79 L537.08,470.99 L537.12,472.17 L537.17,473.35 L537.21,474.55 L537.26,475.79 L537.31,477.10 L537.37,478.50 L537.43,480.02 L537.49,481.59 L537.56,482.91 L537.62,483.69 L537.69,483.63 L537.76,482.76 L537.83,481.39 L537.90,479.82 L537.98,478.32 L538.06,476.92 L538.15,475.61 L538.23,474.36 L538.32,473.15 L538.42,471.96 L538.51,470.77 L538.61,469.57 L538.71,468.36 L538.81,467.15 L538.91,465.93 L539.01,464.70 L539.11,463.47 L539.21,462.23 L539.31,460.99 L539.41,459.74 L539.51,458.49 L539.60,457.24 L539.69,455.99 L539.79,454.73 L539.87,453.47 L539.96,452.21 L540.04,450.94 L540.12,449.68 L540.19,448.42 L540.27,447.16 L540.33,445.90 L540.39,444.64 L540.45,443.38 L540.50,442.13 L540.55,440.88 L540.60,439.62 L540.64,438.37 L540.68,437.12 L540.72,435.87 L540.76,434.63 L540.80,433.38 L540.84,432.13 L540.88,430.89 L540.92,429.65 L540.97,428.40 L541.01,427.16 L541.06,425.92 L541.12,424.67 L541.17,423.43 L541.24,422.19 L541.30,420.95 L541.38,419.71 L541.45,418.47 L541.54,417.23 L541.63,415.98 L541.72,414.74 L541.82,413.50 L541.93,412.26 L542.04,411.02 L542.15,409.78 L542.26,408.54 L542.38,407.29 L542.51,406.05 L542.63,404.81 L542.76,403.57 L542.89,402.33 L543.02,401.08 L543.16,399.84 L543.29,398.60 L543.43,397.35 L543.57,396.11 L543.70,394.87 L543.84,393.62 L543.98,392.38 L544.12,391.14 L544.26,389.89 L544.39,388.65 L544.53,387.40 L544.66,386.16 L544.80,384.91 L544.93,383.66 L545.06,382.42 L545.18,381.17 L545.31,379.92 L545.43,378.68 L545.55,377.43 L545.67,376.18 L545.79,374.94 L545.91,373.69 L546.03,372.45 L546.14,371.20 L546.26,369.96 L546.38,368.72 L546.49,367.48 L546.61,366.24 L546.72,365.00 L546.84,363.76 L546.96,362.53 L547.07,361.30 L547.19,360.06 L547.31,358.84 L547.43,357.61 L547.55,356.38 L547.67,355.16 L547.80,353.94 L547.93,352.72 L548.05,351.51 L548.18,350.30 L548.32,349.09 L548.46,347.88 L548.61,346.66 L548.77,345.45 L548.94,344.23 L549.13,343.00 L549.32,341.77 L549.54,340.52 L549.78,339.27 L550.03,338.01 L550.31,336.73 L550.61,335.44 L550.94,334.14 L551.29,332.81 L551.68,331.48 L552.10,330.14 L552.55,328.83 L553.06,327.56 L553.61,326.38 L554.22,325.30 L554.89,324.35 L555.63,323.55 L556.44,322.93 L557.33,322.52 L558.30,322.34 L559.36,322.40 L560.48,322.68 L561.63,323.14 L562.78,323.74 L563.91,324.44 L564.99,325.19 L566.00,325.98 L566.96,326.82 L567.87,327.69 L568.73,328.59 L569.54,329.53 L570.31,330.50 L571.04,331.49 L571.74,332.51 L572.41,333.54 L573.05,334.60 L573.67,335.68 L574.27,336.76 L574.86,337.86 L575.43,338.97 L575.99,340.08 L576.55,341.20 L577.11,342.31 L577.67,343.43 L578.23,344.55 L578.80,345.66 L579.36,346.77 L579.93,347.88 L580.50,348.99 L581.08,350.10 L581.65,351.21 L582.23,352.32 L582.81,353.42 L583.39,354.53 L583.97,355.63 L584.56,356.74 L585.15,357.84 L585.73,358.94 L586.32,360.04 L586.92,361.14 L587.51,362.23 L588.11,363.33 L588.71,364.43 L589.30,365.52 L589.91,366.61 L590.51,367.71 L591.11,368.80 L591.72,369.89 L592.33,370.98 L592.94,372.07 L593.55,373.16 L594.16,374.25 L594.77,375.33 L595.39,376.42 L596.00,377.50 L596.62,378.59 L597.24,379.67 L597.86,380.76 L598.48,381.84 L599.11,382.92 L599.73,384.00 L600.36,385.08 L600.98,386.16 L601.61,387.24 L602.24,388.32 L602.87,389.39 L603.50,390.47 L604.14,391.55 L604.77,392.62 L605.41,393.70 L606.04,394.77 L606.68,395.84 L607.32,396.92 L607.96,397.99 L608.60,399.06 L609.24,400.13 L609.88,401.21 L610.52,402.28 L611.17,403.35 L611.81,404.42 L612.46,405.48 L613.10,406.55 L613.75,407.62 L614.40,408.69 L615.05,409.76 L615.69,410.82 L616.34,411.89 L616.99,412.96 L617.64,414.02 L618.30,415.09 L618.95,416.15 L619.60,417.22 L620.25,418.28 L620.91,419.35 L621.56,420.41 L622.21,421.48 L622.87,422.54 L623.52,423.60 L624.18,424.67 L624.84,425.73 L625.49,426.79 L626.15,427.85 L626.81,428.92 L627.47,429.98 L628.13,431.04 L628.79,432.10 L629.45,433.16 L630.11,434.22 L630.77,435.28 L631.44,436.34 L632.10,437.39 L632.76,438.45 L633.43,439.51 L634.10,440.56 L634.77,441.62 L635.44,442.67 L636.11,443.73 L636.78,444.78 L637.45,445.83 L638.12,446.88 L638.80,447.93 L639.47,448.98 L640.15,450.03 L640.83,451.08 L641.51,452.13 L642.19,453.17 L642.88,454.22 L643.56,455.26 L644.25,456.31 L644.93,457.35 L645.62,458.39 L646.31,459.43 L647.01,460.47 L647.70,461.51 L648.40,462.55 L649.09,463.58 L649.79,464.62 L650.49,465.65 L651.20,466.68 L651.90,467.71 L652.61,468.74 L653.32,469.77 L654.03,470.80 L654.74,471.83 L655.45,472.85 L656.17,473.87 L656.89,474.90 L657.61,475.92 L658.33,476.94 L659.05,477.95 L659.78,478.97 L660.51,479.98 L661.24,481.00 L661.98,482.01 L662.71,483.02 L663.45,484.03 L664.19,485.03 L664.94,486.04 L665.68,487.04 L666.43,488.04 L667.18,489.04 L667.94,490.04 L668.69,491.04 L669.45,492.03 L670.21,493.03 L670.98,494.02 L671.74,495.01 L672.51,495.99" fill="none" stroke="#ff0000" stroke-width="2.5" stroke-linejoin="round" stroke-linecap="butt"/>
<path d="M402.66,471.76 C402.73,471.41 403.05,469.06 403.25,468.80 C403.46,468.54 404.16,469.19 404.44,469.54 C404.71,469.88 405.36,471.58 405.62,471.76 C405.88,471.93 406.41,471.53 406.65,471.02 C406.90,470.50 407.43,468.27 407.69,467.32 C407.95,466.37 408.60,463.75 408.87,462.88 C409.15,462.02 409.80,460.36 410.06,459.93 C410.31,459.49 410.85,459.10 411.09,459.19 C411.33,459.27 411.87,460.23 412.13,460.67 C412.38,461.10 413.03,462.71 413.31,462.88 C413.58,463.06 414.23,462.14 414.49,462.14 C414.75,462.14 415.23,462.71 415.53,462.88 C415.82,463.06 416.66,463.45 417.01,463.62 C417.35,463.80 418.14,464.19 418.48,464.36 C418.83,464.53 419.67,465.19 419.96,465.10 C420.26,465.02 420.77,464.57 421.00,463.62 C421.22,462.67 421.71,458.43 421.89,456.97 C422.06,455.50 422.30,452.43 422.48,451.05 C422.65,449.67 423.14,446.26 423.36,445.14 C423.59,444.02 424.11,442.05 424.40,441.44 C424.69,440.84 425.58,440.22 425.88,439.96 C426.17,439.70 426.69,439.83 426.91,439.22 C427.14,438.62 427.58,435.82 427.80,434.79 C428.02,433.75 428.59,430.96 428.84,430.35 C429.08,429.75 429.61,429.53 429.87,429.61 C430.13,429.70 430.78,430.66 431.05,431.09 C431.33,431.52 431.93,432.79 432.24,433.31 C432.55,433.83 433.37,435.10 433.72,435.53 C434.06,435.96 434.90,436.92 435.19,437.01 C435.49,437.09 435.99,436.61 436.23,436.27 C436.47,435.92 437.01,434.65 437.26,434.05 C437.52,433.44 438.17,431.87 438.45,431.09 C438.72,430.31 439.37,427.74 439.63,427.39 C439.89,427.05 440.42,427.87 440.67,428.13 C440.91,428.39 441.44,429.70 441.70,429.61 C441.96,429.53 442.61,427.83 442.88,427.39 C443.16,426.96 443.81,425.74 444.07,425.91 C444.33,426.09 444.89,428.18 445.10,428.87 C445.31,429.56 445.67,431.83 445.84,431.83 C446.01,431.83 446.41,429.65 446.58,428.87 C446.75,428.10 447.10,425.78 447.32,425.18 C447.54,424.57 448.22,424.40 448.50,423.70 C448.78,422.99 449.45,420.03 449.73,419.15 C450.01,418.27 450.64,416.80 450.91,416.19 C451.19,415.59 451.84,414.41 452.10,413.97 C452.36,413.54 452.89,412.84 453.13,412.50 C453.37,412.15 453.94,411.45 454.17,411.02 C454.39,410.59 454.83,409.23 455.06,408.80 C455.28,408.37 455.80,407.53 456.09,407.32 C456.38,407.11 457.22,407.20 457.57,407.02 C457.91,406.85 458.79,406.32 459.05,405.84 C459.31,405.36 459.61,403.40 459.79,402.88 C459.96,402.37 460.32,401.92 460.53,401.40 C460.73,400.89 461.30,399.22 461.56,398.45 C461.82,397.67 462.47,395.53 462.74,394.75 C463.02,393.97 463.67,392.22 463.93,391.79 C464.19,391.36 464.72,391.05 464.96,391.05 C465.20,391.05 465.74,391.88 466.00,391.79 C466.26,391.71 466.91,390.40 467.18,390.31 C467.46,390.23 468.11,391.05 468.36,391.05 C468.62,391.05 469.16,390.31 469.40,390.31 C469.64,390.31 470.21,391.48 470.43,391.05 C470.66,390.62 471.13,387.65 471.32,386.62 C471.51,385.58 471.89,383.22 472.06,382.18 C472.23,381.15 472.59,378.69 472.80,377.74 C473.01,376.80 473.59,374.74 473.84,374.05 C474.08,373.36 474.65,372.26 474.87,371.83 C475.09,371.40 475.57,370.96 475.76,370.35 C475.95,369.75 476.32,367.52 476.50,366.65 C476.67,365.79 477.03,363.48 477.24,362.96 C477.44,362.44 478.03,362.39 478.27,362.22 C478.51,362.05 478.97,361.71 479.31,361.48 C479.65,361.25 480.84,360.76 481.18,360.28 C481.52,359.79 481.98,357.58 482.22,357.32 C482.46,357.06 483.03,357.80 483.25,358.06 C483.48,358.32 483.92,359.71 484.14,359.54 C484.36,359.37 484.93,357.18 485.18,356.58 C485.42,355.98 485.99,354.79 486.21,354.36 C486.43,353.93 486.87,352.88 487.10,352.88 C487.32,352.88 487.89,353.84 488.13,354.36 C488.37,354.88 488.94,356.89 489.17,357.32 C489.39,357.75 489.83,358.23 490.06,358.06 C490.28,357.89 490.85,356.44 491.09,355.84 C491.33,355.24 491.87,353.57 492.13,352.88 C492.38,352.19 493.03,350.53 493.31,349.93 C493.58,349.32 494.23,348.05 494.49,347.71 C494.75,347.36 495.29,346.88 495.53,346.97 C495.77,347.05 496.34,348.62 496.56,348.45 C496.79,348.27 497.22,346.18 497.45,345.49 C497.67,344.80 498.24,343.22 498.48,342.53 C498.73,341.84 499.30,340.09 499.52,339.57 C499.74,339.06 500.18,338.79 500.41,338.10 C500.63,337.41 501.23,334.26 501.44,333.66 C501.65,333.06 502.01,332.66 502.18,332.92 C502.35,333.18 502.75,335.71 502.92,335.88 C503.09,336.05 503.49,335.00 503.66,334.40 C503.83,333.80 504.19,331.48 504.40,330.70 C504.61,329.93 505.21,328.43 505.43,327.74 C505.66,327.05 506.13,325.56 506.32,324.79 C506.51,324.01 506.91,321.69 507.06,321.09 C507.22,320.49 507.50,319.61 507.65,319.61 C507.81,319.61 508.20,320.57 508.39,321.09 C508.58,321.61 509.05,323.62 509.28,324.05 C509.50,324.48 510.11,324.61 510.31,324.79 C510.52,324.96 510.88,325.01 511.05,325.53 C511.23,326.04 511.62,328.71 511.79,329.22 C511.97,329.74 512.36,330.05 512.53,329.96 C512.70,329.88 513.10,328.83 513.27,328.48 C513.44,328.14 513.80,326.83 514.01,327.01 C514.22,327.18 514.82,329.45 515.05,329.96 C515.27,330.48 515.71,331.01 515.93,331.44 C516.16,331.87 516.71,333.49 516.97,333.66 C517.23,333.83 517.89,333.09 518.15,332.92 C518.41,332.75 518.95,332.30 519.19,332.18 C519.43,332.06 520.00,331.80 520.22,331.89 C520.45,331.97 520.88,332.45 521.11,332.92 C521.33,333.39 521.90,335.27 522.14,335.88 C522.39,336.48 522.92,337.75 523.18,338.10 C523.44,338.44 524.14,338.58 524.36,338.84 C524.59,339.09 524.93,339.88 525.10,340.31 C525.27,340.75 525.67,341.58 525.84,342.53 C526.01,343.48 526.41,347.07 526.58,348.45 C526.75,349.83 527.15,352.81 527.32,354.36 C527.49,355.91 528.01,361.10 528.06,361.76 C528.11,362.41 527.63,358.80 527.77,360.00 C527.90,361.20 528.87,369.21 529.21,372.01 C529.55,374.82 530.34,381.23 530.65,384.03 C530.96,386.83 531.57,393.24 531.85,396.04 C532.13,398.85 532.77,405.26 533.05,408.06 C533.33,410.86 533.99,417.17 534.26,420.07 C534.52,422.98 535.07,429.93 535.33,432.94 C535.59,435.95 536.24,443.16 536.49,445.88 C536.75,448.60 537.30,454.42 537.53,456.23 C537.75,458.04 538.21,461.86 538.43,461.40 C538.66,460.95 539.20,454.91 539.47,452.35 C539.74,449.78 540.50,441.97 540.76,439.41 C541.02,436.84 541.47,432.62 541.67,430.35 C541.86,428.09 542.36,422.60 542.44,420.00 C542.53,417.40 542.29,410.85 542.43,408.06 C542.56,405.26 543.35,398.85 543.63,396.04 C543.91,393.24 544.55,386.83 544.83,384.03 C545.11,381.23 545.72,374.82 546.03,372.01 C546.34,369.21 547.12,363.23 547.47,360.00 C547.82,356.77 548.69,346.88 549.01,344.36 C549.33,341.85 549.94,339.83 550.19,338.45 C550.45,337.07 550.99,333.91 551.23,332.53 C551.47,331.15 552.04,328.00 552.26,326.62 C552.49,325.24 552.98,322.08 553.15,320.70 C553.32,319.32 553.61,316.00 553.74,314.79 C553.88,313.58 554.20,311.21 554.33,310.35 C554.47,309.49 554.77,307.57 554.93,307.39 C555.08,307.22 555.49,308.44 555.67,308.87 C555.84,309.30 556.18,310.92 556.40,311.09 C556.63,311.26 557.33,310.26 557.59,310.35 C557.85,310.44 558.38,311.57 558.62,311.83 C558.86,312.09 559.40,312.40 559.66,312.57 C559.92,312.74 560.57,312.96 560.84,313.31 C561.12,313.65 561.77,315.70 562.02,315.53 C562.28,315.35 562.85,312.52 563.06,311.83 C563.27,311.14 563.57,310.04 563.80,309.61 C564.02,309.18 564.72,308.39 564.98,308.13 C565.24,307.87 565.78,307.39 566.02,307.39 C566.26,307.39 566.83,307.79 567.05,308.13 C567.28,308.48 567.77,309.57 567.94,310.35 C568.11,311.13 568.36,313.84 568.53,314.79 C568.70,315.74 569.19,317.79 569.42,318.48 C569.64,319.17 570.21,320.36 570.45,320.70 C570.69,321.05 571.23,321.18 571.49,321.44 C571.75,321.70 572.45,323.01 572.67,322.92 C572.90,322.83 573.24,321.05 573.41,320.70 C573.58,320.36 573.92,319.27 574.15,319.96 C574.38,320.65 575.12,325.32 575.35,326.62 C575.58,327.91 575.88,330.19 576.09,331.05 C576.30,331.92 576.90,333.58 577.13,334.01 C577.35,334.44 577.79,334.49 578.01,334.75 C578.24,335.01 578.84,335.54 579.05,336.23 C579.26,336.92 579.61,339.72 579.79,340.67 C579.96,341.61 580.35,343.41 580.53,344.36 C580.70,345.31 581.04,348.11 581.27,348.80 C581.49,349.49 582.19,350.28 582.45,350.28 C582.71,350.28 583.24,348.71 583.48,348.80 C583.73,348.88 584.30,350.59 584.52,351.02 C584.74,351.45 585.23,352.06 585.41,352.50 C585.58,352.93 585.83,354.11 586.00,354.71 C586.17,355.32 586.71,356.98 586.89,357.67 C587.06,358.36 587.30,359.77 587.48,360.63 C587.65,361.49 588.14,364.72 588.36,365.06 C588.59,365.41 589.16,364.02 589.40,363.59 C589.64,363.15 590.21,361.45 590.43,361.37 C590.66,361.28 591.10,362.33 591.32,362.85 C591.55,363.36 592.12,365.20 592.36,365.80 C592.60,366.41 593.13,367.68 593.39,368.02 C593.65,368.37 594.35,368.42 594.57,368.76 C594.80,369.11 595.14,370.55 595.31,370.98 C595.49,371.41 595.88,372.11 596.05,372.46 C596.23,372.80 596.59,373.68 596.79,373.94 C597.00,374.20 597.57,374.42 597.83,374.68 C598.09,374.94 598.79,376.01 599.01,376.16 C599.23,376.30 599.54,375.60 599.73,375.91 C599.92,376.23 600.39,378.01 600.62,378.87 C600.84,379.74 601.45,382.27 601.65,383.31 C601.86,384.34 602.22,386.54 602.39,387.74 C602.57,388.95 602.96,392.62 603.13,393.66 C603.31,394.70 603.65,396.27 603.87,396.62 C604.10,396.96 604.80,396.53 605.06,396.62 C605.31,396.70 605.88,396.84 606.09,397.36 C606.30,397.87 606.66,400.10 606.83,401.05 C607.00,402.00 607.36,404.63 607.57,405.49 C607.78,406.35 608.38,407.67 608.60,408.45 C608.83,409.22 609.27,411.45 609.49,412.14 C609.72,412.83 610.29,413.93 610.53,414.36 C610.77,414.79 611.34,415.50 611.56,415.84 C611.79,416.19 612.28,416.80 612.45,417.32 C612.62,417.84 612.87,419.33 613.04,420.28 C613.21,421.23 613.70,424.68 613.93,425.45 C614.15,426.23 614.72,426.93 614.96,426.93 C615.20,426.93 615.77,425.80 616.00,425.45 C616.22,425.11 616.66,424.06 616.89,423.97 C617.11,423.89 617.71,424.37 617.92,424.71 C618.13,425.06 618.49,426.59 618.66,426.93 C618.83,427.28 619.23,427.67 619.40,427.67 C619.57,427.67 619.97,426.76 620.14,426.93 C620.31,427.10 620.67,428.80 620.88,429.15 C621.09,429.49 621.69,429.63 621.91,429.89 C622.14,430.15 622.58,431.11 622.80,431.37 C623.02,431.63 623.59,432.28 623.84,432.11 C624.08,431.93 624.65,430.32 624.87,429.89 C625.09,429.46 625.59,428.93 625.76,428.41 C625.93,427.89 626.18,426.06 626.35,425.45 C626.52,424.85 627.01,423.58 627.24,423.23 C627.46,422.89 628.06,422.32 628.27,422.50 C628.48,422.67 628.84,424.20 629.01,424.71 C629.18,425.23 629.58,426.50 629.75,426.93 C629.92,427.36 630.32,428.50 630.49,428.41 C630.66,428.32 631.06,426.80 631.23,426.19 C631.40,425.59 631.80,423.75 631.97,423.23 C632.14,422.72 632.50,421.93 632.71,421.76 C632.91,421.58 633.48,421.84 633.74,421.76 C634.00,421.67 634.70,420.93 634.93,421.02 C635.15,421.10 635.49,422.24 635.67,422.50 C635.84,422.75 636.23,423.32 636.40,423.23 C636.58,423.15 636.94,422.01 637.14,421.76 C637.35,421.50 637.96,420.93 638.18,421.02 C638.40,421.10 638.84,422.41 639.07,422.50 C639.29,422.58 639.86,422.01 640.10,421.76 C640.34,421.50 640.91,420.62 641.14,420.28 C641.36,419.93 641.80,419.14 642.02,418.80 C642.25,418.45 642.85,417.53 643.06,417.32 C643.27,417.11 643.63,416.94 643.80,417.02 C643.97,417.11 644.37,417.59 644.54,418.06 C644.71,418.52 645.10,420.50 645.28,421.02 C645.45,421.53 645.84,422.24 646.02,422.50 C646.19,422.75 646.58,422.89 646.76,423.23 C646.93,423.58 647.29,424.85 647.50,425.45 C647.70,426.06 648.31,427.81 648.53,428.41 C648.75,429.01 649.25,430.37 649.42,430.63 C649.59,430.89 649.84,430.89 650.01,430.63 C650.18,430.37 650.67,428.93 650.90,428.41 C651.12,427.89 651.72,426.54 651.93,426.19 C652.14,425.85 652.50,425.37 652.67,425.45 C652.84,425.54 653.27,426.33 653.41,426.93 C653.55,427.54 653.71,429.89 653.85,430.63 C653.99,431.37 654.39,432.49 654.61,433.29 C654.84,434.09 655.50,437.16 655.78,437.45 C656.05,437.74 656.69,436.08 656.94,435.79 C657.19,435.49 657.69,434.76 657.94,434.95 C658.19,435.15 658.83,436.87 659.10,437.45 C659.38,438.03 660.02,439.85 660.27,439.94 C660.52,440.04 661.07,438.09 661.27,438.28 C661.46,438.48 661.74,440.54 661.93,441.61 C662.13,442.68 662.68,447.14 662.93,447.43 C663.18,447.72 663.82,444.59 664.09,444.10 C664.37,443.62 664.97,443.17 665.26,443.27 C665.55,443.37 666.28,444.64 666.59,444.94 C666.90,445.23 667.63,445.96 667.92,445.77 C668.21,445.57 668.85,443.66 669.09,443.27 C669.32,442.88 669.72,442.25 669.92,442.44 C670.11,442.63 670.59,443.87 670.75,444.94 C670.90,446.00 671.11,449.84 671.25,451.59 C671.38,453.34 671.76,458.65 671.91,459.91 C672.07,461.17 672.50,462.11 672.58,462.40" fill="none" stroke="#000" stroke-width="1.3" stroke-linejoin="round"/>
<line x1="402.50" y1="495.90" x2="402.50" y2="492.60" stroke="#484848" stroke-width="1.2"/>
<line x1="402.50" y1="303.00" x2="402.50" y2="306.30" stroke="#484848" stroke-width="1.2"/>
<line x1="477.58" y1="495.90" x2="477.58" y2="492.60" stroke="#484848" stroke-width="1.2"/>
<line x1="477.58" y1="303.00" x2="477.58" y2="306.30" stroke="#484848" stroke-width="1.2"/>
<line x1="552.67" y1="495.90" x2="552.67" y2="492.60" stroke="#484848" stroke-width="1.2"/>
<line x1="552.67" y1="303.00" x2="552.67" y2="306.30" stroke="#484848" stroke-width="1.2"/>
<line x1="627.75" y1="495.90" x2="627.75" y2="492.60" stroke="#484848" stroke-width="1.2"/>
<line x1="627.75" y1="303.00" x2="627.75" y2="306.30" stroke="#484848" stroke-width="1.2"/>
<line x1="672.80" y1="495.90" x2="672.80" y2="492.60" stroke="#484848" stroke-width="1.2"/>
<line x1="672.80" y1="303.00" x2="672.80" y2="306.30" stroke="#484848" stroke-width="1.2"/>
<line x1="402.50" y1="495.90" x2="405.80" y2="495.90" stroke="#484848" stroke-width="1.2"/>
<line x1="672.80" y1="495.90" x2="669.50" y2="495.90" stroke="#484848" stroke-width="1.2"/>
<line x1="402.50" y1="457.32" x2="405.80" y2="457.32" stroke="#484848" stroke-width="1.2"/>
<line x1="672.80" y1="457.32" x2="669.50" y2="457.32" stroke="#484848" stroke-width="1.2"/>
<line x1="402.50" y1="418.74" x2="405.80" y2="418.74" stroke="#484848" stroke-width="1.2"/>
<line x1="672.80" y1="418.74" x2="669.50" y2="418.74" stroke="#484848" stroke-width="1.2"/>
<line x1="402.50" y1="380.16" x2="405.80" y2="380.16" stroke="#484848" stroke-width="1.2"/>
<line x1="672.80" y1="380.16" x2="669.50" y2="380.16" stroke="#484848" stroke-width="1.2"/>
<line x1="402.50" y1="341.58" x2="405.80" y2="341.58" stroke="#484848" stroke-width="1.2"/>
<line x1="672.80" y1="341.58" x2="669.50" y2="341.58" stroke="#484848" stroke-width="1.2"/>
<line x1="402.50" y1="303.00" x2="405.80" y2="303.00" stroke="#484848" stroke-width="1.2"/>
<line x1="672.80" y1="303.00" x2="669.50" y2="303.00" stroke="#484848" stroke-width="1.2"/>
<rect x="402.50" y="303.00" width="270.30" height="192.90" fill="none" stroke="#484848" stroke-width="1.3"/>
<text x="402.50" y="516.40" font-family="Liberation Sans" font-size="14.9" fill="#1c1c1c" stroke="#1c1c1c" stroke-width="0.3" text-anchor="middle">0</text>
<text x="477.58" y="516.40" font-family="Liberation Sans" font-size="14.9" fill="#1c1c1c" stroke="#1c1c1c" stroke-width="0.3" text-anchor="middle">50</text>
<text x="552.67" y="516.40" font-family="Liberation Sans" font-size="14.9" fill="#1c1c1c" stroke="#1c1c1c" stroke-width="0.3" text-anchor="middle">100</text>
<text x="627.75" y="516.40" font-family="Liberation Sans" font-size="14.9" fill="#1c1c1c" stroke="#1c1c1c" stroke-width="0.3" text-anchor="middle">150</text>
<text x="672.80" y="516.40" font-family="Liberation Sans" font-size="14.9" fill="#1c1c1c" stroke="#1c1c1c" stroke-width="0.3" text-anchor="middle">180</text>
<text x="397.60" y="501.70" font-family="Liberation Sans" font-size="14.9" fill="#1c1c1c" stroke="#1c1c1c" stroke-width="0.3" text-anchor="end">0</text>
<text x="397.60" y="463.12" font-family="Liberation Sans" font-size="14.9" fill="#1c1c1c" stroke="#1c1c1c" stroke-width="0.3" text-anchor="end">10</text>
<text x="397.60" y="424.54" font-family="Liberation Sans" font-size="14.9" fill="#1c1c1c" stroke="#1c1c1c" stroke-width="0.3" text-anchor="end">20</text>
<text x="397.60" y="385.96" font-family="Liberation Sans" font-size="14.9" fill="#1c1c1c" stroke="#1c1c1c" stroke-width="0.3" text-anchor="end">30</text>
<text x="397.60" y="347.38" font-family="Liberation Sans" font-size="14.9" fill="#1c1c1c" stroke="#1c1c1c" stroke-width="0.3" text-anchor="end">40</text>
<text x="397.60" y="308.80" font-family="Liberation Sans" font-size="14.9" fill="#1c1c1c" stroke="#1c1c1c" stroke-width="0.3" text-anchor="end">50</text>
<text x="410.90" y="326.00" font-family="Liberation Serif" font-weight="bold" font-size="20.6" fill="#000" textLength="24.8" lengthAdjust="spacingAndGlyphs">(d)</text>
<text x="537.35" y="536.80" font-family="Liberation Serif" font-size="19.5" fill="#000" text-anchor="middle" textLength="110" lengthAdjust="spacingAndGlyphs">Colatitude (°)</text>
<g transform="translate(368.90,258.45) rotate(-90)" fill="#000">
<path d="M-236.70,-13.9 L-240.60,-5.1 L-236.70,4.1" fill="none" stroke="#000" stroke-width="0.9"/>
<text x="-231.35" y="0" font-family="Liberation Serif" font-size="19.5" text-anchor="middle" font-style="italic">θ</text>
<text x="-216.75" y="2.7" font-family="Liberation Serif" font-size="13.5" text-anchor="middle" textLength="21.0" lengthAdjust="spacingAndGlyphs">min</text>
<text x="-201.25" y="0" font-family="Liberation Serif" font-size="20.6" text-anchor="middle">(</text>
<text x="-193.65" y="0" font-family="Liberation Serif" font-size="19.5" text-anchor="middle" font-weight="bold">r</text>
<text x="-186.30" y="0" font-family="Liberation Serif" font-size="20.6" text-anchor="middle">)</text>
<path d="M-181.30,-13.9 L-177.30,-5.1 L-181.30,4.1" fill="none" stroke="#000" stroke-width="0.9"/>
<text x="-166.90" y="2.7" font-family="Liberation Serif" font-size="13.5" text-anchor="middle" textLength="17.0" lengthAdjust="spacingAndGlyphs">lon</text>
<text x="-146.70" y="0" font-family="Liberation Serif" font-size="20.6" text-anchor="middle">(</text>
<text x="-124.70" y="0" font-family="Liberation Serif" font-size="19.5" text-anchor="middle" textLength="38.6" lengthAdjust="spacingAndGlyphs">error</text>
<text x="-93.00" y="2.6" font-family="Liberation Serif" font-size="24" text-anchor="middle">≤</text>
<text x="-69.40" y="0" font-family="Liberation Serif" font-size="19.5" text-anchor="middle" textLength="33.3" lengthAdjust="spacingAndGlyphs">0.24</text>
<text x="-50.25" y="0" font-family="Liberation Serif" font-size="19.5" text-anchor="middle">°</text>
<text x="-43.05" y="0" font-family="Liberation Serif" font-size="20.6" text-anchor="middle">)</text>
</g>
<rect x="94.5" y="0.55" width="521" height="25.85" fill="#fff" stroke="#484848" stroke-width="1.3"/>
<line x1="97.3" y1="13.6" x2="129.8" y2="13.6" stroke="#ff0000" stroke-width="2.5"/>
<text x="132.6" y="18.1" font-family="Liberation Serif" font-size="19.6" fill="#000" textLength="215" lengthAdjust="spacingAndGlyphs">Best surface fit DEEMSE</text>
<line x1="376.4" y1="13.6" x2="408" y2="13.6" stroke="#000" stroke-width="1.3"/>
<text x="411.2" y="18.1" font-family="Liberation Serif" font-size="19.6" fill="#000" textLength="200.6" lengthAdjust="spacingAndGlyphs">Polyhedral shape model</text>
</svg></body></html>
